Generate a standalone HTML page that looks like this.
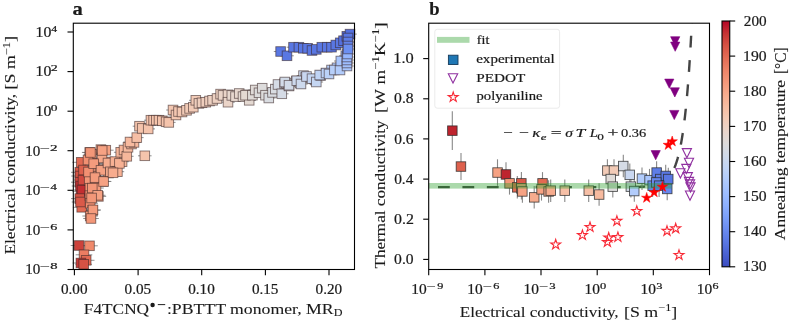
<!DOCTYPE html>
<html><head><meta charset="utf-8"><style>
html,body{margin:0;padding:0;background:#fff;width:792px;height:322px;overflow:hidden}
svg{display:block;font-family:"Liberation Serif", serif;will-change:transform}
text{fill:#1a1a1a;stroke:#1a1a1a;stroke-width:0.2px} text.lb{stroke-width:0.1px}
</style></head><body>
<svg width="792" height="322" viewBox="0 0 792 322">
<rect width="792" height="322" fill="#fff"/>
<line x1="70.7" y1="245.5" x2="87.3" y2="245.5" stroke="#777" stroke-width="0.8"/>
<line x1="81.2" y1="245.8" x2="97.8" y2="245.8" stroke="#777" stroke-width="0.8"/>
<line x1="75.7" y1="254.8" x2="92.3" y2="254.8" stroke="#777" stroke-width="0.8"/>
<line x1="77.9" y1="260.3" x2="94.5" y2="260.3" stroke="#777" stroke-width="0.8"/>
<line x1="72.6" y1="263.0" x2="89.2" y2="263.0" stroke="#777" stroke-width="0.8"/>
<line x1="75.4" y1="264.3" x2="92.0" y2="264.3" stroke="#777" stroke-width="0.8"/>
<line x1="72.4" y1="162.3" x2="90.0" y2="162.3" stroke="#777" stroke-width="0.8"/>
<line x1="71.0" y1="172.3" x2="88.6" y2="172.3" stroke="#777" stroke-width="0.8"/>
<line x1="71.2" y1="176.0" x2="88.8" y2="176.0" stroke="#777" stroke-width="0.8"/>
<line x1="71.0" y1="182.2" x2="88.6" y2="182.2" stroke="#777" stroke-width="0.8"/>
<line x1="72.2" y1="191.3" x2="89.8" y2="191.3" stroke="#777" stroke-width="0.8"/>
<line x1="71.7" y1="186.0" x2="89.3" y2="186.0" stroke="#777" stroke-width="0.8"/>
<line x1="73.2" y1="190.0" x2="90.8" y2="190.0" stroke="#777" stroke-width="0.8"/>
<line x1="71.0" y1="198.6" x2="88.6" y2="198.6" stroke="#777" stroke-width="0.8"/>
<line x1="72.9" y1="207.3" x2="90.5" y2="207.3" stroke="#777" stroke-width="0.8"/>
<line x1="71.7" y1="202.0" x2="89.3" y2="202.0" stroke="#777" stroke-width="0.8"/>
<line x1="74.2" y1="180.0" x2="91.8" y2="180.0" stroke="#777" stroke-width="0.8"/>
<line x1="74.7" y1="170.0" x2="92.3" y2="170.0" stroke="#777" stroke-width="0.8"/>
<line x1="93.1" y1="149.6" x2="108.7" y2="149.6" stroke="#777" stroke-width="0.8"/>
<line x1="98.0" y1="150.2" x2="113.6" y2="150.2" stroke="#777" stroke-width="0.8"/>
<line x1="81.9" y1="152.4" x2="97.5" y2="152.4" stroke="#777" stroke-width="0.8"/>
<line x1="83.7" y1="154.3" x2="99.3" y2="154.3" stroke="#777" stroke-width="0.8"/>
<line x1="86.6" y1="163.3" x2="102.2" y2="163.3" stroke="#777" stroke-width="0.8"/>
<line x1="99.9" y1="162.0" x2="115.5" y2="162.0" stroke="#777" stroke-width="0.8"/>
<line x1="85.2" y1="170.4" x2="100.8" y2="170.4" stroke="#777" stroke-width="0.8"/>
<line x1="92.2" y1="169.5" x2="107.8" y2="169.5" stroke="#777" stroke-width="0.8"/>
<line x1="100.7" y1="173.0" x2="116.3" y2="173.0" stroke="#777" stroke-width="0.8"/>
<line x1="87.8" y1="176.2" x2="103.4" y2="176.2" stroke="#777" stroke-width="0.8"/>
<line x1="81.4" y1="180.3" x2="97.0" y2="180.3" stroke="#777" stroke-width="0.8"/>
<line x1="87.4" y1="179.2" x2="103.0" y2="179.2" stroke="#777" stroke-width="0.8"/>
<line x1="95.2" y1="181.4" x2="110.8" y2="181.4" stroke="#777" stroke-width="0.8"/>
<line x1="82.1" y1="188.2" x2="97.7" y2="188.2" stroke="#777" stroke-width="0.8"/>
<line x1="88.2" y1="188.0" x2="103.8" y2="188.0" stroke="#777" stroke-width="0.8"/>
<line x1="82.1" y1="195.6" x2="97.7" y2="195.6" stroke="#777" stroke-width="0.8"/>
<line x1="90.6" y1="196.4" x2="106.2" y2="196.4" stroke="#777" stroke-width="0.8"/>
<line x1="82.4" y1="203.2" x2="98.0" y2="203.2" stroke="#777" stroke-width="0.8"/>
<line x1="84.9" y1="210.3" x2="100.5" y2="210.3" stroke="#777" stroke-width="0.8"/>
<line x1="82.4" y1="216.0" x2="98.0" y2="216.0" stroke="#777" stroke-width="0.8"/>
<line x1="80.2" y1="160.0" x2="95.8" y2="160.0" stroke="#777" stroke-width="0.8"/>
<line x1="80.7" y1="172.0" x2="96.3" y2="172.0" stroke="#777" stroke-width="0.8"/>
<line x1="94.2" y1="158.0" x2="109.8" y2="158.0" stroke="#777" stroke-width="0.8"/>
<line x1="82.6" y1="152.5" x2="98.2" y2="152.5" stroke="#777" stroke-width="0.8"/>
<line x1="94.4" y1="150.5" x2="110.0" y2="150.5" stroke="#777" stroke-width="0.8"/>
<line x1="85.9" y1="163.7" x2="101.5" y2="163.7" stroke="#777" stroke-width="0.8"/>
<line x1="93.2" y1="170.3" x2="108.8" y2="170.3" stroke="#777" stroke-width="0.8"/>
<line x1="87.2" y1="177.6" x2="102.8" y2="177.6" stroke="#777" stroke-width="0.8"/>
<line x1="95.8" y1="181.5" x2="111.4" y2="181.5" stroke="#777" stroke-width="0.8"/>
<line x1="84.5" y1="188.1" x2="100.1" y2="188.1" stroke="#777" stroke-width="0.8"/>
<line x1="89.9" y1="195.3" x2="105.5" y2="195.3" stroke="#777" stroke-width="0.8"/>
<line x1="83.8" y1="198.0" x2="99.4" y2="198.0" stroke="#777" stroke-width="0.8"/>
<line x1="85.2" y1="209.9" x2="100.8" y2="209.9" stroke="#777" stroke-width="0.8"/>
<line x1="83.2" y1="218.5" x2="98.8" y2="218.5" stroke="#777" stroke-width="0.8"/>
<line x1="105.4" y1="164.5" x2="119.0" y2="164.5" stroke="#777" stroke-width="0.8"/>
<line x1="110.6" y1="171.7" x2="124.2" y2="171.7" stroke="#777" stroke-width="0.8"/>
<line x1="115.3" y1="161.7" x2="128.9" y2="161.7" stroke="#777" stroke-width="0.8"/>
<line x1="101.2" y1="163.0" x2="114.8" y2="163.0" stroke="#777" stroke-width="0.8"/>
<line x1="108.2" y1="161.6" x2="121.8" y2="161.6" stroke="#777" stroke-width="0.8"/>
<line x1="112.6" y1="163.4" x2="126.2" y2="163.4" stroke="#777" stroke-width="0.8"/>
<line x1="103.6" y1="171.8" x2="117.2" y2="171.8" stroke="#777" stroke-width="0.8"/>
<line x1="106.2" y1="172.8" x2="119.8" y2="172.8" stroke="#777" stroke-width="0.8"/>
<line x1="113.9" y1="152.3" x2="127.5" y2="152.3" stroke="#777" stroke-width="0.8"/>
<line x1="117.2" y1="150.0" x2="130.8" y2="150.0" stroke="#777" stroke-width="0.8"/>
<line x1="120.0" y1="156.3" x2="133.6" y2="156.3" stroke="#777" stroke-width="0.8"/>
<line x1="121.2" y1="147.3" x2="134.8" y2="147.3" stroke="#777" stroke-width="0.8"/>
<line x1="124.7" y1="144.0" x2="138.3" y2="144.0" stroke="#777" stroke-width="0.8"/>
<line x1="127.2" y1="142.4" x2="140.8" y2="142.4" stroke="#777" stroke-width="0.8"/>
<line x1="123.2" y1="142.0" x2="136.8" y2="142.0" stroke="#777" stroke-width="0.8"/>
<line x1="130.0" y1="137.6" x2="143.6" y2="137.6" stroke="#777" stroke-width="0.8"/>
<line x1="132.7" y1="126.2" x2="146.3" y2="126.2" stroke="#777" stroke-width="0.8"/>
<line x1="135.4" y1="128.4" x2="149.0" y2="128.4" stroke="#777" stroke-width="0.8"/>
<line x1="141.4" y1="128.9" x2="155.0" y2="128.9" stroke="#777" stroke-width="0.8"/>
<line x1="138.0" y1="155.8" x2="151.6" y2="155.8" stroke="#777" stroke-width="0.8"/>
<line x1="144.1" y1="120.2" x2="157.7" y2="120.2" stroke="#777" stroke-width="0.8"/>
<line x1="146.8" y1="120.2" x2="160.4" y2="120.2" stroke="#777" stroke-width="0.8"/>
<line x1="149.5" y1="120.2" x2="163.1" y2="120.2" stroke="#777" stroke-width="0.8"/>
<line x1="152.2" y1="120.2" x2="165.8" y2="120.2" stroke="#777" stroke-width="0.8"/>
<line x1="155.5" y1="120.8" x2="169.1" y2="120.8" stroke="#777" stroke-width="0.8"/>
<line x1="159.3" y1="121.8" x2="172.9" y2="121.8" stroke="#777" stroke-width="0.8"/>
<line x1="162.0" y1="122.4" x2="175.6" y2="122.4" stroke="#777" stroke-width="0.8"/>
<line x1="166.2" y1="110.0" x2="179.8" y2="110.0" stroke="#777" stroke-width="0.8"/>
<line x1="169.2" y1="115.0" x2="182.8" y2="115.0" stroke="#777" stroke-width="0.8"/>
<line x1="171.7" y1="111.5" x2="185.3" y2="111.5" stroke="#777" stroke-width="0.8"/>
<line x1="175.2" y1="112.0" x2="188.8" y2="112.0" stroke="#777" stroke-width="0.8"/>
<line x1="179.7" y1="110.3" x2="193.3" y2="110.3" stroke="#777" stroke-width="0.8"/>
<line x1="182.8" y1="108.4" x2="196.4" y2="108.4" stroke="#777" stroke-width="0.8"/>
<line x1="186.5" y1="107.2" x2="200.1" y2="107.2" stroke="#777" stroke-width="0.8"/>
<line x1="189.0" y1="100.3" x2="202.6" y2="100.3" stroke="#777" stroke-width="0.8"/>
<line x1="192.1" y1="103.4" x2="205.7" y2="103.4" stroke="#777" stroke-width="0.8"/>
<line x1="195.2" y1="102.8" x2="208.8" y2="102.8" stroke="#777" stroke-width="0.8"/>
<line x1="199.0" y1="102.2" x2="212.6" y2="102.2" stroke="#777" stroke-width="0.8"/>
<line x1="202.7" y1="101.0" x2="216.3" y2="101.0" stroke="#777" stroke-width="0.8"/>
<line x1="205.8" y1="100.3" x2="219.4" y2="100.3" stroke="#777" stroke-width="0.8"/>
<line x1="210.2" y1="98.5" x2="223.8" y2="98.5" stroke="#777" stroke-width="0.8"/>
<line x1="213.8" y1="94.1" x2="227.4" y2="94.1" stroke="#777" stroke-width="0.8"/>
<line x1="216.2" y1="95.4" x2="229.8" y2="95.4" stroke="#777" stroke-width="0.8"/>
<line x1="221.2" y1="94.8" x2="234.8" y2="94.8" stroke="#777" stroke-width="0.8"/>
<line x1="221.2" y1="102.2" x2="234.8" y2="102.2" stroke="#777" stroke-width="0.8"/>
<line x1="225.0" y1="95.4" x2="238.6" y2="95.4" stroke="#777" stroke-width="0.8"/>
<line x1="228.7" y1="96.6" x2="242.3" y2="96.6" stroke="#777" stroke-width="0.8"/>
<line x1="232.4" y1="93.5" x2="246.0" y2="93.5" stroke="#777" stroke-width="0.8"/>
<line x1="236.2" y1="96.6" x2="249.8" y2="96.6" stroke="#777" stroke-width="0.8"/>
<line x1="239.9" y1="94.8" x2="253.5" y2="94.8" stroke="#777" stroke-width="0.8"/>
<line x1="242.4" y1="100.3" x2="256.0" y2="100.3" stroke="#777" stroke-width="0.8"/>
<line x1="238.7" y1="95.2" x2="252.3" y2="95.2" stroke="#777" stroke-width="0.8"/>
<line x1="245.6" y1="95.2" x2="259.2" y2="95.2" stroke="#777" stroke-width="0.8"/>
<line x1="248.4" y1="90.0" x2="262.0" y2="90.0" stroke="#777" stroke-width="0.8"/>
<line x1="252.2" y1="92.8" x2="265.8" y2="92.8" stroke="#777" stroke-width="0.8"/>
<line x1="255.4" y1="88.2" x2="269.0" y2="88.2" stroke="#777" stroke-width="0.8"/>
<line x1="258.7" y1="95.2" x2="272.3" y2="95.2" stroke="#777" stroke-width="0.8"/>
<line x1="262.0" y1="98.0" x2="275.6" y2="98.0" stroke="#777" stroke-width="0.8"/>
<line x1="265.7" y1="92.4" x2="279.3" y2="92.4" stroke="#777" stroke-width="0.8"/>
<line x1="268.5" y1="89.1" x2="282.1" y2="89.1" stroke="#777" stroke-width="0.8"/>
<line x1="271.2" y1="84.5" x2="284.8" y2="84.5" stroke="#777" stroke-width="0.8"/>
<line x1="275.0" y1="93.8" x2="288.6" y2="93.8" stroke="#777" stroke-width="0.8"/>
<line x1="277.8" y1="83.5" x2="291.4" y2="83.5" stroke="#777" stroke-width="0.8"/>
<line x1="279.2" y1="83.0" x2="292.8" y2="83.0" stroke="#777" stroke-width="0.8"/>
<line x1="282.2" y1="86.0" x2="295.8" y2="86.0" stroke="#777" stroke-width="0.8"/>
<line x1="289.6" y1="81.0" x2="303.2" y2="81.0" stroke="#777" stroke-width="0.8"/>
<line x1="293.2" y1="83.0" x2="306.8" y2="83.0" stroke="#777" stroke-width="0.8"/>
<line x1="296.7" y1="75.6" x2="310.3" y2="75.6" stroke="#777" stroke-width="0.8"/>
<line x1="298.9" y1="77.4" x2="312.5" y2="77.4" stroke="#777" stroke-width="0.8"/>
<line x1="307.2" y1="79.0" x2="320.8" y2="79.0" stroke="#777" stroke-width="0.8"/>
<line x1="308.6" y1="80.0" x2="322.2" y2="80.0" stroke="#777" stroke-width="0.8"/>
<line x1="278.0" y1="82.0" x2="291.6" y2="82.0" stroke="#777" stroke-width="0.8"/>
<line x1="282.2" y1="85.2" x2="295.8" y2="85.2" stroke="#777" stroke-width="0.8"/>
<line x1="290.0" y1="80.8" x2="303.6" y2="80.8" stroke="#777" stroke-width="0.8"/>
<line x1="294.2" y1="84.0" x2="307.8" y2="84.0" stroke="#777" stroke-width="0.8"/>
<line x1="299.7" y1="76.5" x2="313.3" y2="76.5" stroke="#777" stroke-width="0.8"/>
<line x1="305.2" y1="78.7" x2="318.8" y2="78.7" stroke="#777" stroke-width="0.8"/>
<line x1="309.5" y1="82.0" x2="323.1" y2="82.0" stroke="#777" stroke-width="0.8"/>
<line x1="313.9" y1="75.5" x2="327.5" y2="75.5" stroke="#777" stroke-width="0.8"/>
<line x1="319.3" y1="73.3" x2="332.9" y2="73.3" stroke="#777" stroke-width="0.8"/>
<line x1="324.7" y1="70.0" x2="338.3" y2="70.0" stroke="#777" stroke-width="0.8"/>
<line x1="330.2" y1="67.8" x2="343.8" y2="67.8" stroke="#777" stroke-width="0.8"/>
<line x1="335.6" y1="62.4" x2="349.2" y2="62.4" stroke="#777" stroke-width="0.8"/>
<line x1="339.0" y1="55.8" x2="352.6" y2="55.8" stroke="#777" stroke-width="0.8"/>
<line x1="312.9" y1="75.0" x2="326.5" y2="75.0" stroke="#777" stroke-width="0.8"/>
<line x1="319.2" y1="73.0" x2="332.8" y2="73.0" stroke="#777" stroke-width="0.8"/>
<line x1="322.2" y1="74.0" x2="335.8" y2="74.0" stroke="#777" stroke-width="0.8"/>
<line x1="327.6" y1="70.0" x2="341.2" y2="70.0" stroke="#777" stroke-width="0.8"/>
<line x1="333.2" y1="70.0" x2="346.8" y2="70.0" stroke="#777" stroke-width="0.8"/>
<line x1="334.0" y1="61.0" x2="347.6" y2="61.0" stroke="#777" stroke-width="0.8"/>
<line x1="340.2" y1="66.0" x2="353.8" y2="66.0" stroke="#777" stroke-width="0.8"/>
<line x1="340.2" y1="63.0" x2="353.8" y2="63.0" stroke="#777" stroke-width="0.8"/>
<line x1="340.2" y1="60.0" x2="353.8" y2="60.0" stroke="#777" stroke-width="0.8"/>
<line x1="340.2" y1="57.0" x2="353.8" y2="57.0" stroke="#777" stroke-width="0.8"/>
<line x1="340.7" y1="54.0" x2="354.3" y2="54.0" stroke="#777" stroke-width="0.8"/>
<line x1="273.8" y1="51.5" x2="287.4" y2="51.5" stroke="#777" stroke-width="0.8"/>
<line x1="280.2" y1="55.8" x2="293.8" y2="55.8" stroke="#777" stroke-width="0.8"/>
<line x1="286.7" y1="47.2" x2="300.3" y2="47.2" stroke="#777" stroke-width="0.8"/>
<line x1="292.1" y1="47.2" x2="305.7" y2="47.2" stroke="#777" stroke-width="0.8"/>
<line x1="296.5" y1="48.3" x2="310.1" y2="48.3" stroke="#777" stroke-width="0.8"/>
<line x1="300.8" y1="48.3" x2="314.4" y2="48.3" stroke="#777" stroke-width="0.8"/>
<line x1="305.2" y1="50.5" x2="318.8" y2="50.5" stroke="#777" stroke-width="0.8"/>
<line x1="309.5" y1="49.4" x2="323.1" y2="49.4" stroke="#777" stroke-width="0.8"/>
<line x1="315.0" y1="47.2" x2="328.6" y2="47.2" stroke="#777" stroke-width="0.8"/>
<line x1="320.4" y1="47.2" x2="334.0" y2="47.2" stroke="#777" stroke-width="0.8"/>
<line x1="324.7" y1="47.2" x2="338.3" y2="47.2" stroke="#777" stroke-width="0.8"/>
<line x1="329.0" y1="45.0" x2="342.6" y2="45.0" stroke="#777" stroke-width="0.8"/>
<line x1="333.4" y1="42.8" x2="347.0" y2="42.8" stroke="#777" stroke-width="0.8"/>
<line x1="336.7" y1="40.7" x2="350.3" y2="40.7" stroke="#777" stroke-width="0.8"/>
<line x1="340.0" y1="36.3" x2="353.6" y2="36.3" stroke="#777" stroke-width="0.8"/>
<line x1="343.2" y1="34.1" x2="356.8" y2="34.1" stroke="#777" stroke-width="0.8"/>
<line x1="341.2" y1="38.0" x2="354.8" y2="38.0" stroke="#777" stroke-width="0.8"/>
<line x1="341.2" y1="42.0" x2="354.8" y2="42.0" stroke="#777" stroke-width="0.8"/>
<line x1="341.2" y1="46.0" x2="354.8" y2="46.0" stroke="#777" stroke-width="0.8"/>
<line x1="341.2" y1="49.0" x2="354.8" y2="49.0" stroke="#777" stroke-width="0.8"/>
<rect x="74.2" y="240.7" width="9.6" height="9.6" fill="#cd423b" stroke="#3a2626" stroke-opacity="0.62" stroke-width="0.9"/>
<rect x="84.7" y="241.0" width="9.6" height="9.6" fill="#f08a6c" stroke="#3a2626" stroke-opacity="0.62" stroke-width="0.9"/>
<rect x="79.2" y="250.0" width="9.6" height="9.6" fill="#eb7d62" stroke="#3a2626" stroke-opacity="0.62" stroke-width="0.9"/>
<rect x="81.4" y="255.5" width="9.6" height="9.6" fill="#e26952" stroke="#3a2626" stroke-opacity="0.62" stroke-width="0.9"/>
<rect x="76.1" y="258.2" width="9.6" height="9.6" fill="#c83836" stroke="#3a2626" stroke-opacity="0.62" stroke-width="0.9"/>
<rect x="78.9" y="259.5" width="9.6" height="9.6" fill="#d65244" stroke="#3a2626" stroke-opacity="0.62" stroke-width="0.9"/>
<rect x="76.4" y="157.5" width="9.6" height="9.6" fill="#e26952" stroke="#3a2626" stroke-opacity="0.62" stroke-width="0.9"/>
<rect x="75.0" y="167.5" width="9.6" height="9.6" fill="#da5a49" stroke="#3a2626" stroke-opacity="0.62" stroke-width="0.9"/>
<rect x="75.2" y="171.2" width="9.6" height="9.6" fill="#d65244" stroke="#3a2626" stroke-opacity="0.62" stroke-width="0.9"/>
<rect x="75.0" y="177.4" width="9.6" height="9.6" fill="#d1493f" stroke="#3a2626" stroke-opacity="0.62" stroke-width="0.9"/>
<rect x="76.2" y="186.5" width="9.6" height="9.6" fill="#c83836" stroke="#3a2626" stroke-opacity="0.62" stroke-width="0.9"/>
<rect x="75.7" y="181.2" width="9.6" height="9.6" fill="#c32e31" stroke="#3a2626" stroke-opacity="0.62" stroke-width="0.9"/>
<rect x="77.2" y="185.2" width="9.6" height="9.6" fill="#c32e31" stroke="#3a2626" stroke-opacity="0.62" stroke-width="0.9"/>
<rect x="75.0" y="193.8" width="9.6" height="9.6" fill="#d65244" stroke="#3a2626" stroke-opacity="0.62" stroke-width="0.9"/>
<rect x="76.9" y="202.5" width="9.6" height="9.6" fill="#e26952" stroke="#3a2626" stroke-opacity="0.62" stroke-width="0.9"/>
<rect x="75.7" y="197.2" width="9.6" height="9.6" fill="#da5a49" stroke="#3a2626" stroke-opacity="0.62" stroke-width="0.9"/>
<rect x="78.2" y="175.2" width="9.6" height="9.6" fill="#d1493f" stroke="#3a2626" stroke-opacity="0.62" stroke-width="0.9"/>
<rect x="78.7" y="165.2" width="9.6" height="9.6" fill="#de614d" stroke="#3a2626" stroke-opacity="0.62" stroke-width="0.9"/>
<rect x="96.1" y="144.8" width="9.6" height="9.6" fill="#f6a283" stroke="#3a2626" stroke-opacity="0.62" stroke-width="0.9"/>
<rect x="101.0" y="145.4" width="9.6" height="9.6" fill="#f6a283" stroke="#3a2626" stroke-opacity="0.62" stroke-width="0.9"/>
<rect x="84.9" y="147.6" width="9.6" height="9.6" fill="#f39778" stroke="#3a2626" stroke-opacity="0.62" stroke-width="0.9"/>
<rect x="86.7" y="149.5" width="9.6" height="9.6" fill="#f59c7d" stroke="#3a2626" stroke-opacity="0.62" stroke-width="0.9"/>
<rect x="89.6" y="158.5" width="9.6" height="9.6" fill="#f59c7d" stroke="#3a2626" stroke-opacity="0.62" stroke-width="0.9"/>
<rect x="102.9" y="157.2" width="9.6" height="9.6" fill="#f7a889" stroke="#3a2626" stroke-opacity="0.62" stroke-width="0.9"/>
<rect x="88.2" y="165.6" width="9.6" height="9.6" fill="#f59c7d" stroke="#3a2626" stroke-opacity="0.62" stroke-width="0.9"/>
<rect x="95.2" y="164.7" width="9.6" height="9.6" fill="#f6a283" stroke="#3a2626" stroke-opacity="0.62" stroke-width="0.9"/>
<rect x="103.7" y="168.2" width="9.6" height="9.6" fill="#f7a889" stroke="#3a2626" stroke-opacity="0.62" stroke-width="0.9"/>
<rect x="90.8" y="171.4" width="9.6" height="9.6" fill="#f59c7d" stroke="#3a2626" stroke-opacity="0.62" stroke-width="0.9"/>
<rect x="84.4" y="175.5" width="9.6" height="9.6" fill="#f39778" stroke="#3a2626" stroke-opacity="0.62" stroke-width="0.9"/>
<rect x="90.4" y="174.4" width="9.6" height="9.6" fill="#f59c7d" stroke="#3a2626" stroke-opacity="0.62" stroke-width="0.9"/>
<rect x="98.2" y="176.6" width="9.6" height="9.6" fill="#f6a283" stroke="#3a2626" stroke-opacity="0.62" stroke-width="0.9"/>
<rect x="85.1" y="183.4" width="9.6" height="9.6" fill="#f29072" stroke="#3a2626" stroke-opacity="0.62" stroke-width="0.9"/>
<rect x="91.2" y="183.2" width="9.6" height="9.6" fill="#f59c7d" stroke="#3a2626" stroke-opacity="0.62" stroke-width="0.9"/>
<rect x="85.1" y="190.8" width="9.6" height="9.6" fill="#f29072" stroke="#3a2626" stroke-opacity="0.62" stroke-width="0.9"/>
<rect x="93.6" y="191.6" width="9.6" height="9.6" fill="#f6a283" stroke="#3a2626" stroke-opacity="0.62" stroke-width="0.9"/>
<rect x="85.4" y="198.4" width="9.6" height="9.6" fill="#f29072" stroke="#3a2626" stroke-opacity="0.62" stroke-width="0.9"/>
<rect x="87.9" y="205.5" width="9.6" height="9.6" fill="#f59c7d" stroke="#3a2626" stroke-opacity="0.62" stroke-width="0.9"/>
<rect x="85.4" y="211.2" width="9.6" height="9.6" fill="#f39778" stroke="#3a2626" stroke-opacity="0.62" stroke-width="0.9"/>
<rect x="83.2" y="155.2" width="9.6" height="9.6" fill="#f29072" stroke="#3a2626" stroke-opacity="0.62" stroke-width="0.9"/>
<rect x="83.7" y="167.2" width="9.6" height="9.6" fill="#f29072" stroke="#3a2626" stroke-opacity="0.62" stroke-width="0.9"/>
<rect x="97.2" y="153.2" width="9.6" height="9.6" fill="#f7a889" stroke="#3a2626" stroke-opacity="0.62" stroke-width="0.9"/>
<rect x="85.6" y="147.7" width="9.6" height="9.6" fill="#f39778" stroke="#3a2626" stroke-opacity="0.62" stroke-width="0.9"/>
<rect x="97.4" y="145.7" width="9.6" height="9.6" fill="#f6a283" stroke="#3a2626" stroke-opacity="0.62" stroke-width="0.9"/>
<rect x="88.9" y="158.9" width="9.6" height="9.6" fill="#f59c7d" stroke="#3a2626" stroke-opacity="0.62" stroke-width="0.9"/>
<rect x="96.2" y="165.5" width="9.6" height="9.6" fill="#f6a283" stroke="#3a2626" stroke-opacity="0.62" stroke-width="0.9"/>
<rect x="90.2" y="172.8" width="9.6" height="9.6" fill="#f59c7d" stroke="#3a2626" stroke-opacity="0.62" stroke-width="0.9"/>
<rect x="98.8" y="176.7" width="9.6" height="9.6" fill="#f6a283" stroke="#3a2626" stroke-opacity="0.62" stroke-width="0.9"/>
<rect x="87.5" y="183.3" width="9.6" height="9.6" fill="#f39778" stroke="#3a2626" stroke-opacity="0.62" stroke-width="0.9"/>
<rect x="92.9" y="190.5" width="9.6" height="9.6" fill="#f6a283" stroke="#3a2626" stroke-opacity="0.62" stroke-width="0.9"/>
<rect x="86.8" y="193.2" width="9.6" height="9.6" fill="#f39778" stroke="#3a2626" stroke-opacity="0.62" stroke-width="0.9"/>
<rect x="88.2" y="205.1" width="9.6" height="9.6" fill="#f59c7d" stroke="#3a2626" stroke-opacity="0.62" stroke-width="0.9"/>
<rect x="86.2" y="213.7" width="9.6" height="9.6" fill="#f39778" stroke="#3a2626" stroke-opacity="0.62" stroke-width="0.9"/>
<rect x="107.4" y="159.7" width="9.6" height="9.6" fill="#f7b194" stroke="#3a2626" stroke-opacity="0.62" stroke-width="0.9"/>
<rect x="112.6" y="166.9" width="9.6" height="9.6" fill="#f7b194" stroke="#3a2626" stroke-opacity="0.62" stroke-width="0.9"/>
<rect x="117.3" y="156.9" width="9.6" height="9.6" fill="#f7b79b" stroke="#3a2626" stroke-opacity="0.62" stroke-width="0.9"/>
<rect x="103.2" y="158.2" width="9.6" height="9.6" fill="#f7ac8e" stroke="#3a2626" stroke-opacity="0.62" stroke-width="0.9"/>
<rect x="110.2" y="156.8" width="9.6" height="9.6" fill="#f7b194" stroke="#3a2626" stroke-opacity="0.62" stroke-width="0.9"/>
<rect x="114.6" y="158.6" width="9.6" height="9.6" fill="#f7b194" stroke="#3a2626" stroke-opacity="0.62" stroke-width="0.9"/>
<rect x="105.6" y="167.0" width="9.6" height="9.6" fill="#f7ac8e" stroke="#3a2626" stroke-opacity="0.62" stroke-width="0.9"/>
<rect x="108.2" y="168.0" width="9.6" height="9.6" fill="#f7ac8e" stroke="#3a2626" stroke-opacity="0.62" stroke-width="0.9"/>
<rect x="115.9" y="147.5" width="9.6" height="9.6" fill="#f7b79b" stroke="#3a2626" stroke-opacity="0.62" stroke-width="0.9"/>
<rect x="119.2" y="145.2" width="9.6" height="9.6" fill="#f7b79b" stroke="#3a2626" stroke-opacity="0.62" stroke-width="0.9"/>
<rect x="122.0" y="151.5" width="9.6" height="9.6" fill="#f7b79b" stroke="#3a2626" stroke-opacity="0.62" stroke-width="0.9"/>
<rect x="123.2" y="142.5" width="9.6" height="9.6" fill="#f7ba9f" stroke="#3a2626" stroke-opacity="0.62" stroke-width="0.9"/>
<rect x="126.7" y="139.2" width="9.6" height="9.6" fill="#f7ba9f" stroke="#3a2626" stroke-opacity="0.62" stroke-width="0.9"/>
<rect x="129.2" y="137.6" width="9.6" height="9.6" fill="#f7ba9f" stroke="#3a2626" stroke-opacity="0.62" stroke-width="0.9"/>
<rect x="125.2" y="137.2" width="9.6" height="9.6" fill="#f7ba9f" stroke="#3a2626" stroke-opacity="0.62" stroke-width="0.9"/>
<rect x="132.0" y="132.8" width="9.6" height="9.6" fill="#f6bfa6" stroke="#3a2626" stroke-opacity="0.62" stroke-width="0.9"/>
<rect x="134.7" y="121.4" width="9.6" height="9.6" fill="#f5c4ac" stroke="#3a2626" stroke-opacity="0.62" stroke-width="0.9"/>
<rect x="137.4" y="123.6" width="9.6" height="9.6" fill="#f5c4ac" stroke="#3a2626" stroke-opacity="0.62" stroke-width="0.9"/>
<rect x="143.4" y="124.1" width="9.6" height="9.6" fill="#f5c4ac" stroke="#3a2626" stroke-opacity="0.62" stroke-width="0.9"/>
<rect x="140.0" y="151.0" width="9.6" height="9.6" fill="#f5c4ac" stroke="#3a2626" stroke-opacity="0.62" stroke-width="0.9"/>
<rect x="146.1" y="115.4" width="9.6" height="9.6" fill="#f5c4ac" stroke="#3a2626" stroke-opacity="0.62" stroke-width="0.9"/>
<rect x="148.8" y="115.4" width="9.6" height="9.6" fill="#f5c4ac" stroke="#3a2626" stroke-opacity="0.62" stroke-width="0.9"/>
<rect x="151.5" y="115.4" width="9.6" height="9.6" fill="#f5c4ac" stroke="#3a2626" stroke-opacity="0.62" stroke-width="0.9"/>
<rect x="154.2" y="115.4" width="9.6" height="9.6" fill="#f5c4ac" stroke="#3a2626" stroke-opacity="0.62" stroke-width="0.9"/>
<rect x="157.5" y="116.0" width="9.6" height="9.6" fill="#f5c4ac" stroke="#3a2626" stroke-opacity="0.62" stroke-width="0.9"/>
<rect x="161.3" y="117.0" width="9.6" height="9.6" fill="#f5c4ac" stroke="#3a2626" stroke-opacity="0.62" stroke-width="0.9"/>
<rect x="164.0" y="117.6" width="9.6" height="9.6" fill="#f5c4ac" stroke="#3a2626" stroke-opacity="0.62" stroke-width="0.9"/>
<rect x="168.2" y="105.2" width="9.6" height="9.6" fill="#f3c7b1" stroke="#3a2626" stroke-opacity="0.62" stroke-width="0.9"/>
<rect x="171.2" y="110.2" width="9.6" height="9.6" fill="#f3c7b1" stroke="#3a2626" stroke-opacity="0.62" stroke-width="0.9"/>
<rect x="173.7" y="106.7" width="9.6" height="9.6" fill="#f3c7b1" stroke="#3a2626" stroke-opacity="0.62" stroke-width="0.9"/>
<rect x="177.2" y="107.2" width="9.6" height="9.6" fill="#f3c7b1" stroke="#3a2626" stroke-opacity="0.62" stroke-width="0.9"/>
<rect x="181.7" y="105.5" width="9.6" height="9.6" fill="#f2cbb7" stroke="#3a2626" stroke-opacity="0.62" stroke-width="0.9"/>
<rect x="184.8" y="103.6" width="9.6" height="9.6" fill="#f2cbb7" stroke="#3a2626" stroke-opacity="0.62" stroke-width="0.9"/>
<rect x="188.5" y="102.4" width="9.6" height="9.6" fill="#f2cbb7" stroke="#3a2626" stroke-opacity="0.62" stroke-width="0.9"/>
<rect x="191.0" y="95.5" width="9.6" height="9.6" fill="#f2cbb7" stroke="#3a2626" stroke-opacity="0.62" stroke-width="0.9"/>
<rect x="194.1" y="98.6" width="9.6" height="9.6" fill="#efcebd" stroke="#3a2626" stroke-opacity="0.62" stroke-width="0.9"/>
<rect x="197.2" y="98.0" width="9.6" height="9.6" fill="#efcebd" stroke="#3a2626" stroke-opacity="0.62" stroke-width="0.9"/>
<rect x="201.0" y="97.4" width="9.6" height="9.6" fill="#efcebd" stroke="#3a2626" stroke-opacity="0.62" stroke-width="0.9"/>
<rect x="204.7" y="96.2" width="9.6" height="9.6" fill="#efcebd" stroke="#3a2626" stroke-opacity="0.62" stroke-width="0.9"/>
<rect x="207.8" y="95.5" width="9.6" height="9.6" fill="#edd1c2" stroke="#3a2626" stroke-opacity="0.62" stroke-width="0.9"/>
<rect x="212.2" y="93.7" width="9.6" height="9.6" fill="#edd1c2" stroke="#3a2626" stroke-opacity="0.62" stroke-width="0.9"/>
<rect x="215.8" y="89.3" width="9.6" height="9.6" fill="#edd1c2" stroke="#3a2626" stroke-opacity="0.62" stroke-width="0.9"/>
<rect x="218.2" y="90.6" width="9.6" height="9.6" fill="#ead4c8" stroke="#3a2626" stroke-opacity="0.62" stroke-width="0.9"/>
<rect x="223.2" y="90.0" width="9.6" height="9.6" fill="#ead4c8" stroke="#3a2626" stroke-opacity="0.62" stroke-width="0.9"/>
<rect x="223.2" y="97.4" width="9.6" height="9.6" fill="#ead4c8" stroke="#3a2626" stroke-opacity="0.62" stroke-width="0.9"/>
<rect x="227.0" y="90.6" width="9.6" height="9.6" fill="#e7d7ce" stroke="#3a2626" stroke-opacity="0.62" stroke-width="0.9"/>
<rect x="230.7" y="91.8" width="9.6" height="9.6" fill="#e7d7ce" stroke="#3a2626" stroke-opacity="0.62" stroke-width="0.9"/>
<rect x="234.4" y="88.7" width="9.6" height="9.6" fill="#e7d7ce" stroke="#3a2626" stroke-opacity="0.62" stroke-width="0.9"/>
<rect x="238.2" y="91.8" width="9.6" height="9.6" fill="#e4d9d2" stroke="#3a2626" stroke-opacity="0.62" stroke-width="0.9"/>
<rect x="241.9" y="90.0" width="9.6" height="9.6" fill="#e4d9d2" stroke="#3a2626" stroke-opacity="0.62" stroke-width="0.9"/>
<rect x="244.4" y="95.5" width="9.6" height="9.6" fill="#e4d9d2" stroke="#3a2626" stroke-opacity="0.62" stroke-width="0.9"/>
<rect x="240.7" y="90.4" width="9.6" height="9.6" fill="#e4d9d2" stroke="#3a2626" stroke-opacity="0.62" stroke-width="0.9"/>
<rect x="247.6" y="90.4" width="9.6" height="9.6" fill="#e0dbd8" stroke="#3a2626" stroke-opacity="0.62" stroke-width="0.9"/>
<rect x="250.4" y="85.2" width="9.6" height="9.6" fill="#e0dbd8" stroke="#3a2626" stroke-opacity="0.62" stroke-width="0.9"/>
<rect x="254.2" y="88.0" width="9.6" height="9.6" fill="#dddcdc" stroke="#3a2626" stroke-opacity="0.62" stroke-width="0.9"/>
<rect x="257.4" y="83.4" width="9.6" height="9.6" fill="#dddcdc" stroke="#3a2626" stroke-opacity="0.62" stroke-width="0.9"/>
<rect x="260.7" y="90.4" width="9.6" height="9.6" fill="#dddcdc" stroke="#3a2626" stroke-opacity="0.62" stroke-width="0.9"/>
<rect x="264.0" y="93.2" width="9.6" height="9.6" fill="#d9dce1" stroke="#3a2626" stroke-opacity="0.62" stroke-width="0.9"/>
<rect x="267.7" y="87.6" width="9.6" height="9.6" fill="#d9dce1" stroke="#3a2626" stroke-opacity="0.62" stroke-width="0.9"/>
<rect x="270.5" y="84.3" width="9.6" height="9.6" fill="#d9dce1" stroke="#3a2626" stroke-opacity="0.62" stroke-width="0.9"/>
<rect x="273.2" y="79.7" width="9.6" height="9.6" fill="#d5dbe5" stroke="#3a2626" stroke-opacity="0.62" stroke-width="0.9"/>
<rect x="277.0" y="89.0" width="9.6" height="9.6" fill="#d5dbe5" stroke="#3a2626" stroke-opacity="0.62" stroke-width="0.9"/>
<rect x="279.8" y="78.7" width="9.6" height="9.6" fill="#d5dbe5" stroke="#3a2626" stroke-opacity="0.62" stroke-width="0.9"/>
<rect x="281.2" y="78.2" width="9.6" height="9.6" fill="#d5dbe5" stroke="#3a2626" stroke-opacity="0.62" stroke-width="0.9"/>
<rect x="284.2" y="81.2" width="9.6" height="9.6" fill="#d5dbe5" stroke="#3a2626" stroke-opacity="0.62" stroke-width="0.9"/>
<rect x="291.6" y="76.2" width="9.6" height="9.6" fill="#d2dbe8" stroke="#3a2626" stroke-opacity="0.62" stroke-width="0.9"/>
<rect x="295.2" y="78.2" width="9.6" height="9.6" fill="#d2dbe8" stroke="#3a2626" stroke-opacity="0.62" stroke-width="0.9"/>
<rect x="298.7" y="70.8" width="9.6" height="9.6" fill="#cdd9ec" stroke="#3a2626" stroke-opacity="0.62" stroke-width="0.9"/>
<rect x="300.9" y="72.6" width="9.6" height="9.6" fill="#cdd9ec" stroke="#3a2626" stroke-opacity="0.62" stroke-width="0.9"/>
<rect x="309.2" y="74.2" width="9.6" height="9.6" fill="#c5d6f2" stroke="#3a2626" stroke-opacity="0.62" stroke-width="0.9"/>
<rect x="310.6" y="75.2" width="9.6" height="9.6" fill="#c5d6f2" stroke="#3a2626" stroke-opacity="0.62" stroke-width="0.9"/>
<rect x="280.0" y="77.2" width="9.6" height="9.6" fill="#d2dbe8" stroke="#3a2626" stroke-opacity="0.62" stroke-width="0.9"/>
<rect x="284.2" y="80.4" width="9.6" height="9.6" fill="#d2dbe8" stroke="#3a2626" stroke-opacity="0.62" stroke-width="0.9"/>
<rect x="292.0" y="76.0" width="9.6" height="9.6" fill="#cdd9ec" stroke="#3a2626" stroke-opacity="0.62" stroke-width="0.9"/>
<rect x="296.2" y="79.2" width="9.6" height="9.6" fill="#cdd9ec" stroke="#3a2626" stroke-opacity="0.62" stroke-width="0.9"/>
<rect x="301.7" y="71.7" width="9.6" height="9.6" fill="#c9d7f0" stroke="#3a2626" stroke-opacity="0.62" stroke-width="0.9"/>
<rect x="307.2" y="73.9" width="9.6" height="9.6" fill="#c5d6f2" stroke="#3a2626" stroke-opacity="0.62" stroke-width="0.9"/>
<rect x="311.5" y="77.2" width="9.6" height="9.6" fill="#c5d6f2" stroke="#3a2626" stroke-opacity="0.62" stroke-width="0.9"/>
<rect x="315.9" y="70.7" width="9.6" height="9.6" fill="#c0d4f5" stroke="#3a2626" stroke-opacity="0.62" stroke-width="0.9"/>
<rect x="321.3" y="68.5" width="9.6" height="9.6" fill="#bbd1f8" stroke="#3a2626" stroke-opacity="0.62" stroke-width="0.9"/>
<rect x="326.7" y="65.2" width="9.6" height="9.6" fill="#b7cff9" stroke="#3a2626" stroke-opacity="0.62" stroke-width="0.9"/>
<rect x="332.2" y="63.0" width="9.6" height="9.6" fill="#b2ccfb" stroke="#3a2626" stroke-opacity="0.62" stroke-width="0.9"/>
<rect x="337.6" y="57.6" width="9.6" height="9.6" fill="#a9c6fd" stroke="#3a2626" stroke-opacity="0.62" stroke-width="0.9"/>
<rect x="341.0" y="51.0" width="9.6" height="9.6" fill="#9ebeff" stroke="#3a2626" stroke-opacity="0.62" stroke-width="0.9"/>
<rect x="314.9" y="70.2" width="9.6" height="9.6" fill="#c0d4f5" stroke="#3a2626" stroke-opacity="0.62" stroke-width="0.9"/>
<rect x="321.2" y="68.2" width="9.6" height="9.6" fill="#bbd1f8" stroke="#3a2626" stroke-opacity="0.62" stroke-width="0.9"/>
<rect x="324.2" y="69.2" width="9.6" height="9.6" fill="#bbd1f8" stroke="#3a2626" stroke-opacity="0.62" stroke-width="0.9"/>
<rect x="329.6" y="65.2" width="9.6" height="9.6" fill="#b7cff9" stroke="#3a2626" stroke-opacity="0.62" stroke-width="0.9"/>
<rect x="335.2" y="65.2" width="9.6" height="9.6" fill="#b2ccfb" stroke="#3a2626" stroke-opacity="0.62" stroke-width="0.9"/>
<rect x="336.0" y="56.2" width="9.6" height="9.6" fill="#a9c6fd" stroke="#3a2626" stroke-opacity="0.62" stroke-width="0.9"/>
<rect x="342.2" y="61.2" width="9.6" height="9.6" fill="#a9c6fd" stroke="#3a2626" stroke-opacity="0.62" stroke-width="0.9"/>
<rect x="342.2" y="58.2" width="9.6" height="9.6" fill="#a3c2fe" stroke="#3a2626" stroke-opacity="0.62" stroke-width="0.9"/>
<rect x="342.2" y="55.2" width="9.6" height="9.6" fill="#9ebeff" stroke="#3a2626" stroke-opacity="0.62" stroke-width="0.9"/>
<rect x="342.2" y="52.2" width="9.6" height="9.6" fill="#9abbff" stroke="#3a2626" stroke-opacity="0.62" stroke-width="0.9"/>
<rect x="342.7" y="49.2" width="9.6" height="9.6" fill="#94b6ff" stroke="#3a2626" stroke-opacity="0.62" stroke-width="0.9"/>
<rect x="275.8" y="46.7" width="9.6" height="9.6" fill="#5977e3" stroke="#3a2626" stroke-opacity="0.62" stroke-width="0.9"/>
<rect x="282.2" y="51.0" width="9.6" height="9.6" fill="#5977e3" stroke="#3a2626" stroke-opacity="0.62" stroke-width="0.9"/>
<rect x="288.7" y="42.4" width="9.6" height="9.6" fill="#5977e3" stroke="#3a2626" stroke-opacity="0.62" stroke-width="0.9"/>
<rect x="294.1" y="42.4" width="9.6" height="9.6" fill="#5977e3" stroke="#3a2626" stroke-opacity="0.62" stroke-width="0.9"/>
<rect x="298.5" y="43.5" width="9.6" height="9.6" fill="#5977e3" stroke="#3a2626" stroke-opacity="0.62" stroke-width="0.9"/>
<rect x="302.8" y="43.5" width="9.6" height="9.6" fill="#5977e3" stroke="#3a2626" stroke-opacity="0.62" stroke-width="0.9"/>
<rect x="307.2" y="45.7" width="9.6" height="9.6" fill="#5977e3" stroke="#3a2626" stroke-opacity="0.62" stroke-width="0.9"/>
<rect x="311.5" y="44.6" width="9.6" height="9.6" fill="#5977e3" stroke="#3a2626" stroke-opacity="0.62" stroke-width="0.9"/>
<rect x="317.0" y="42.4" width="9.6" height="9.6" fill="#5977e3" stroke="#3a2626" stroke-opacity="0.62" stroke-width="0.9"/>
<rect x="322.4" y="42.4" width="9.6" height="9.6" fill="#5977e3" stroke="#3a2626" stroke-opacity="0.62" stroke-width="0.9"/>
<rect x="326.7" y="42.4" width="9.6" height="9.6" fill="#5977e3" stroke="#3a2626" stroke-opacity="0.62" stroke-width="0.9"/>
<rect x="331.0" y="40.2" width="9.6" height="9.6" fill="#5977e3" stroke="#3a2626" stroke-opacity="0.62" stroke-width="0.9"/>
<rect x="335.4" y="38.0" width="9.6" height="9.6" fill="#5977e3" stroke="#3a2626" stroke-opacity="0.62" stroke-width="0.9"/>
<rect x="338.7" y="35.9" width="9.6" height="9.6" fill="#5470de" stroke="#3a2626" stroke-opacity="0.62" stroke-width="0.9"/>
<rect x="342.0" y="31.5" width="9.6" height="9.6" fill="#5470de" stroke="#3a2626" stroke-opacity="0.62" stroke-width="0.9"/>
<rect x="345.2" y="29.3" width="9.6" height="9.6" fill="#5470de" stroke="#3a2626" stroke-opacity="0.62" stroke-width="0.9"/>
<rect x="343.2" y="33.2" width="9.6" height="9.6" fill="#5977e3" stroke="#3a2626" stroke-opacity="0.62" stroke-width="0.9"/>
<rect x="343.2" y="37.2" width="9.6" height="9.6" fill="#5e7de7" stroke="#3a2626" stroke-opacity="0.62" stroke-width="0.9"/>
<rect x="343.2" y="41.2" width="9.6" height="9.6" fill="#6282ea" stroke="#3a2626" stroke-opacity="0.62" stroke-width="0.9"/>
<rect x="343.2" y="44.2" width="9.6" height="9.6" fill="#6c8ff1" stroke="#3a2626" stroke-opacity="0.62" stroke-width="0.9"/>
<rect x="73.3" y="23.2" width="281.2" height="246.3" fill="none" stroke="#000" stroke-width="1.1"/>
<line x1="67.5" y1="32.0" x2="73.3" y2="32.0" stroke="#000" stroke-width="1.1"/>
<line x1="67.5" y1="71.6" x2="73.3" y2="71.6" stroke="#000" stroke-width="1.1"/>
<line x1="67.5" y1="111.2" x2="73.3" y2="111.2" stroke="#000" stroke-width="1.1"/>
<line x1="67.5" y1="150.7" x2="73.3" y2="150.7" stroke="#000" stroke-width="1.1"/>
<line x1="67.5" y1="190.3" x2="73.3" y2="190.3" stroke="#000" stroke-width="1.1"/>
<line x1="67.5" y1="229.9" x2="73.3" y2="229.9" stroke="#000" stroke-width="1.1"/>
<line x1="67.5" y1="269.5" x2="73.3" y2="269.5" stroke="#000" stroke-width="1.1"/>
<line x1="74.4" y1="269.5" x2="74.4" y2="275.2" stroke="#000" stroke-width="1.1"/>
<line x1="138.1" y1="269.5" x2="138.1" y2="275.2" stroke="#000" stroke-width="1.1"/>
<line x1="201.7" y1="269.5" x2="201.7" y2="275.2" stroke="#000" stroke-width="1.1"/>
<line x1="265.4" y1="269.5" x2="265.4" y2="275.2" stroke="#000" stroke-width="1.1"/>
<line x1="329.0" y1="269.5" x2="329.0" y2="275.2" stroke="#000" stroke-width="1.1"/>
<circle cx="152.6" cy="305" r="2.2" fill="#1a1a1a"/>
<rect x="157.8" y="304.1" width="7.4" height="1" fill="#222"/>
<path d="M419.34,187.11 L419.53,187.11 L419.71,187.11 L419.90,187.11 L420.09,187.11 L420.28,187.11 L420.46,187.11 L420.65,187.11 L420.84,187.11 L421.02,187.11 L421.21,187.11 L421.40,187.11 L421.59,187.11 L421.77,187.11 L421.96,187.11 L422.15,187.11 L422.34,187.11 L422.52,187.11 L422.71,187.11 L422.90,187.11 L423.08,187.11 L423.27,187.11 L423.46,187.11 L423.65,187.11 L423.83,187.11 L424.02,187.11 L424.21,187.11 L424.39,187.11 L424.58,187.11 L424.77,187.11 L424.96,187.11 L425.14,187.11 L425.33,187.11 L425.52,187.11 L425.70,187.11 L425.89,187.11 L426.08,187.11 L426.27,187.11 L426.45,187.11 L426.64,187.11 L426.83,187.11 L427.02,187.11 L427.20,187.11 L427.39,187.11 L427.58,187.11 L427.76,187.11 L427.95,187.11 L428.14,187.11 L428.33,187.11 L428.51,187.11 L428.70,187.11 L428.89,187.11 L429.07,187.11 L429.26,187.11 L429.45,187.11 L429.64,187.11 L429.82,187.11 L430.01,187.11 L430.20,187.11 L430.38,187.11 L430.57,187.11 L430.76,187.11 L430.95,187.11 L431.13,187.11 L431.32,187.11 L431.51,187.11 L431.70,187.11 L431.88,187.11 L432.07,187.11 L432.26,187.11 L432.44,187.11 L432.63,187.11 L432.82,187.11 L433.01,187.11 L433.19,187.11 L433.38,187.11 L433.57,187.11 L433.75,187.11 L433.94,187.11 L434.13,187.11 L434.32,187.11 L434.50,187.11 L434.69,187.11 L434.88,187.11 L435.06,187.11 L435.25,187.11 L435.44,187.11 L435.63,187.11 L435.81,187.11 L436.00,187.11 L436.19,187.11 L436.38,187.11 L436.56,187.11 L436.75,187.11 L436.94,187.11 L437.12,187.11 L437.31,187.11 L437.50,187.11 L437.69,187.11 L437.87,187.11 L438.06,187.11 L438.25,187.11 L438.43,187.11 L438.62,187.11 L438.81,187.11 L439.00,187.11 L439.18,187.11 L439.37,187.11 L439.56,187.11 L439.74,187.11 L439.93,187.11 L440.12,187.11 L440.31,187.11 L440.49,187.11 L440.68,187.11 L440.87,187.11 L441.06,187.11 L441.24,187.11 L441.43,187.11 L441.62,187.11 L441.80,187.11 L441.99,187.11 L442.18,187.11 L442.37,187.11 L442.55,187.11 L442.74,187.11 L442.93,187.11 L443.11,187.11 L443.30,187.11 L443.49,187.11 L443.68,187.11 L443.86,187.11 L444.05,187.11 L444.24,187.11 L444.42,187.11 L444.61,187.11 L444.80,187.11 L444.99,187.11 L445.17,187.11 L445.36,187.11 L445.55,187.11 L445.74,187.11 L445.92,187.11 L446.11,187.11 L446.30,187.11 L446.48,187.11 L446.67,187.11 L446.86,187.11 L447.05,187.11 L447.23,187.11 L447.42,187.11 L447.61,187.11 L447.79,187.11 L447.98,187.11 L448.17,187.11 L448.36,187.11 L448.54,187.11 L448.73,187.11 L448.92,187.11 L449.10,187.11 L449.29,187.11 L449.48,187.11 L449.67,187.11 L449.85,187.11 L450.04,187.11 L450.23,187.11 L450.42,187.11 L450.60,187.11 L450.79,187.11 L450.98,187.11 L451.16,187.11 L451.35,187.11 L451.54,187.11 L451.73,187.11 L451.91,187.11 L452.10,187.11 L452.29,187.11 L452.47,187.11 L452.66,187.11 L452.85,187.11 L453.04,187.11 L453.22,187.11 L453.41,187.11 L453.60,187.11 L453.78,187.11 L453.97,187.11 L454.16,187.11 L454.35,187.11 L454.53,187.11 L454.72,187.11 L454.91,187.11 L455.10,187.11 L455.28,187.11 L455.47,187.11 L455.66,187.11 L455.84,187.11 L456.03,187.11 L456.22,187.11 L456.41,187.11 L456.59,187.11 L456.78,187.11 L456.97,187.11 L457.15,187.11 L457.34,187.11 L457.53,187.11 L457.72,187.11 L457.90,187.11 L458.09,187.11 L458.28,187.11 L458.46,187.11 L458.65,187.11 L458.84,187.11 L459.03,187.11 L459.21,187.11 L459.40,187.11 L459.59,187.11 L459.78,187.11 L459.96,187.11 L460.15,187.11 L460.34,187.11 L460.52,187.11 L460.71,187.11 L460.90,187.11 L461.09,187.11 L461.27,187.11 L461.46,187.11 L461.65,187.11 L461.83,187.11 L462.02,187.11 L462.21,187.11 L462.40,187.11 L462.58,187.11 L462.77,187.11 L462.96,187.11 L463.14,187.11 L463.33,187.11 L463.52,187.11 L463.71,187.11 L463.89,187.11 L464.08,187.11 L464.27,187.11 L464.46,187.11 L464.64,187.11 L464.83,187.11 L465.02,187.11 L465.20,187.11 L465.39,187.11 L465.58,187.11 L465.77,187.11 L465.95,187.11 L466.14,187.11 L466.33,187.11 L466.51,187.11 L466.70,187.11 L466.89,187.11 L467.08,187.11 L467.26,187.11 L467.45,187.11 L467.64,187.11 L467.82,187.11 L468.01,187.11 L468.20,187.11 L468.39,187.11 L468.57,187.11 L468.76,187.11 L468.95,187.11 L469.14,187.11 L469.32,187.11 L469.51,187.11 L469.70,187.11 L469.88,187.11 L470.07,187.11 L470.26,187.11 L470.45,187.11 L470.63,187.11 L470.82,187.11 L471.01,187.11 L471.19,187.11 L471.38,187.11 L471.57,187.11 L471.76,187.11 L471.94,187.11 L472.13,187.11 L472.32,187.11 L472.50,187.11 L472.69,187.11 L472.88,187.11 L473.07,187.11 L473.25,187.11 L473.44,187.11 L473.63,187.11 L473.82,187.11 L474.00,187.11 L474.19,187.11 L474.38,187.11 L474.56,187.11 L474.75,187.11 L474.94,187.11 L475.13,187.11 L475.31,187.11 L475.50,187.11 L475.69,187.11 L475.87,187.11 L476.06,187.11 L476.25,187.11 L476.44,187.11 L476.62,187.11 L476.81,187.11 L477.00,187.11 L477.18,187.11 L477.37,187.11 L477.56,187.11 L477.75,187.11 L477.93,187.11 L478.12,187.11 L478.31,187.11 L478.50,187.11 L478.68,187.11 L478.87,187.11 L479.06,187.11 L479.24,187.11 L479.43,187.11 L479.62,187.11 L479.81,187.11 L479.99,187.11 L480.18,187.11 L480.37,187.11 L480.55,187.11 L480.74,187.11 L480.93,187.11 L481.12,187.11 L481.30,187.11 L481.49,187.11 L481.68,187.11 L481.86,187.11 L482.05,187.11 L482.24,187.11 L482.43,187.11 L482.61,187.11 L482.80,187.11 L482.99,187.11 L483.18,187.11 L483.36,187.11 L483.55,187.11 L483.74,187.11 L483.92,187.11 L484.11,187.11 L484.30,187.11 L484.49,187.11 L484.67,187.11 L484.86,187.11 L485.05,187.11 L485.23,187.11 L485.42,187.11 L485.61,187.11 L485.80,187.11 L485.98,187.11 L486.17,187.11 L486.36,187.11 L486.54,187.11 L486.73,187.11 L486.92,187.11 L487.11,187.11 L487.29,187.11 L487.48,187.11 L487.67,187.11 L487.86,187.11 L488.04,187.11 L488.23,187.11 L488.42,187.11 L488.60,187.11 L488.79,187.11 L488.98,187.11 L489.17,187.11 L489.35,187.11 L489.54,187.11 L489.73,187.11 L489.91,187.11 L490.10,187.11 L490.29,187.11 L490.48,187.11 L490.66,187.11 L490.85,187.11 L491.04,187.11 L491.22,187.11 L491.41,187.11 L491.60,187.11 L491.79,187.11 L491.97,187.11 L492.16,187.11 L492.35,187.11 L492.54,187.11 L492.72,187.11 L492.91,187.11 L493.10,187.11 L493.28,187.11 L493.47,187.11 L493.66,187.11 L493.85,187.11 L494.03,187.11 L494.22,187.11 L494.41,187.11 L494.59,187.11 L494.78,187.11 L494.97,187.11 L495.16,187.11 L495.34,187.11 L495.53,187.11 L495.72,187.11 L495.90,187.11 L496.09,187.11 L496.28,187.11 L496.47,187.11 L496.65,187.11 L496.84,187.11 L497.03,187.11 L497.22,187.11 L497.40,187.11 L497.59,187.11 L497.78,187.11 L497.96,187.11 L498.15,187.11 L498.34,187.11 L498.53,187.11 L498.71,187.11 L498.90,187.11 L499.09,187.11 L499.27,187.11 L499.46,187.11 L499.65,187.11 L499.84,187.11 L500.02,187.11 L500.21,187.11 L500.40,187.11 L500.58,187.11 L500.77,187.11 L500.96,187.11 L501.15,187.11 L501.33,187.11 L501.52,187.11 L501.71,187.11 L501.90,187.11 L502.08,187.11 L502.27,187.11 L502.46,187.11 L502.64,187.11 L502.83,187.11 L503.02,187.11 L503.21,187.11 L503.39,187.11 L503.58,187.11 L503.77,187.11 L503.95,187.11 L504.14,187.11 L504.33,187.11 L504.52,187.11 L504.70,187.11 L504.89,187.11 L505.08,187.11 L505.26,187.11 L505.45,187.11 L505.64,187.11 L505.83,187.11 L506.01,187.11 L506.20,187.11 L506.39,187.11 L506.58,187.11 L506.76,187.11 L506.95,187.11 L507.14,187.11 L507.32,187.11 L507.51,187.11 L507.70,187.11 L507.89,187.11 L508.07,187.11 L508.26,187.11 L508.45,187.11 L508.63,187.11 L508.82,187.11 L509.01,187.11 L509.20,187.11 L509.38,187.11 L509.57,187.11 L509.76,187.11 L509.94,187.11 L510.13,187.11 L510.32,187.11 L510.51,187.11 L510.69,187.11 L510.88,187.11 L511.07,187.11 L511.26,187.11 L511.44,187.11 L511.63,187.11 L511.82,187.11 L512.00,187.11 L512.19,187.11 L512.38,187.11 L512.57,187.11 L512.75,187.11 L512.94,187.11 L513.13,187.11 L513.31,187.11 L513.50,187.11 L513.69,187.11 L513.88,187.11 L514.06,187.11 L514.25,187.11 L514.44,187.11 L514.62,187.11 L514.81,187.11 L515.00,187.11 L515.19,187.11 L515.37,187.11 L515.56,187.11 L515.75,187.11 L515.94,187.11 L516.12,187.11 L516.31,187.11 L516.50,187.11 L516.68,187.11 L516.87,187.11 L517.06,187.11 L517.25,187.11 L517.43,187.11 L517.62,187.11 L517.81,187.11 L517.99,187.11 L518.18,187.11 L518.37,187.11 L518.56,187.11 L518.74,187.11 L518.93,187.11 L519.12,187.11 L519.30,187.11 L519.49,187.11 L519.68,187.11 L519.87,187.11 L520.05,187.11 L520.24,187.11 L520.43,187.11 L520.62,187.11 L520.80,187.11 L520.99,187.11 L521.18,187.11 L521.36,187.11 L521.55,187.11 L521.74,187.11 L521.93,187.11 L522.11,187.11 L522.30,187.11 L522.49,187.11 L522.67,187.11 L522.86,187.11 L523.05,187.11 L523.24,187.11 L523.42,187.11 L523.61,187.11 L523.80,187.11 L523.98,187.11 L524.17,187.11 L524.36,187.11 L524.55,187.11 L524.73,187.11 L524.92,187.11 L525.11,187.11 L525.30,187.11 L525.48,187.11 L525.67,187.11 L525.86,187.11 L526.04,187.11 L526.23,187.11 L526.42,187.11 L526.61,187.11 L526.79,187.11 L526.98,187.11 L527.17,187.11 L527.35,187.11 L527.54,187.11 L527.73,187.11 L527.92,187.11 L528.10,187.11 L528.29,187.11 L528.48,187.11 L528.66,187.11 L528.85,187.11 L529.04,187.11 L529.23,187.11 L529.41,187.11 L529.60,187.11 L529.79,187.11 L529.98,187.11 L530.16,187.11 L530.35,187.11 L530.54,187.11 L530.72,187.11 L530.91,187.11 L531.10,187.11 L531.29,187.11 L531.47,187.11 L531.66,187.11 L531.85,187.11 L532.03,187.11 L532.22,187.11 L532.41,187.11 L532.60,187.11 L532.78,187.11 L532.97,187.11 L533.16,187.11 L533.34,187.11 L533.53,187.11 L533.72,187.11 L533.91,187.11 L534.09,187.11 L534.28,187.11 L534.47,187.11 L534.66,187.11 L534.84,187.11 L535.03,187.11 L535.22,187.11 L535.40,187.11 L535.59,187.11 L535.78,187.11 L535.97,187.11 L536.15,187.11 L536.34,187.11 L536.53,187.11 L536.71,187.11 L536.90,187.11 L537.09,187.11 L537.28,187.11 L537.46,187.11 L537.65,187.11 L537.84,187.11 L538.02,187.11 L538.21,187.11 L538.40,187.11 L538.59,187.11 L538.77,187.11 L538.96,187.11 L539.15,187.11 L539.34,187.11 L539.52,187.11 L539.71,187.11 L539.90,187.11 L540.08,187.11 L540.27,187.11 L540.46,187.11 L540.65,187.11 L540.83,187.11 L541.02,187.11 L541.21,187.11 L541.39,187.11 L541.58,187.11 L541.77,187.11 L541.96,187.11 L542.14,187.11 L542.33,187.11 L542.52,187.11 L542.70,187.11 L542.89,187.11 L543.08,187.11 L543.27,187.11 L543.45,187.11 L543.64,187.11 L543.83,187.11 L544.02,187.11 L544.20,187.11 L544.39,187.11 L544.58,187.11 L544.76,187.11 L544.95,187.11 L545.14,187.11 L545.33,187.11 L545.51,187.11 L545.70,187.11 L545.89,187.11 L546.07,187.11 L546.26,187.11 L546.45,187.11 L546.64,187.11 L546.82,187.11 L547.01,187.11 L547.20,187.11 L547.38,187.11 L547.57,187.11 L547.76,187.11 L547.95,187.11 L548.13,187.11 L548.32,187.11 L548.51,187.11 L548.70,187.11 L548.88,187.11 L549.07,187.11 L549.26,187.11 L549.44,187.11 L549.63,187.11 L549.82,187.11 L550.01,187.11 L550.19,187.11 L550.38,187.11 L550.57,187.11 L550.75,187.11 L550.94,187.11 L551.13,187.11 L551.32,187.11 L551.50,187.11 L551.69,187.11 L551.88,187.11 L552.06,187.11 L552.25,187.11 L552.44,187.11 L552.63,187.11 L552.81,187.11 L553.00,187.11 L553.19,187.11 L553.38,187.11 L553.56,187.11 L553.75,187.11 L553.94,187.11 L554.12,187.11 L554.31,187.11 L554.50,187.11 L554.69,187.11 L554.87,187.11 L555.06,187.11 L555.25,187.11 L555.43,187.11 L555.62,187.11 L555.81,187.11 L556.00,187.11 L556.18,187.11 L556.37,187.11 L556.56,187.11 L556.74,187.11 L556.93,187.11 L557.12,187.11 L557.31,187.11 L557.49,187.11 L557.68,187.11 L557.87,187.11 L558.06,187.11 L558.24,187.11 L558.43,187.11 L558.62,187.11 L558.80,187.11 L558.99,187.11 L559.18,187.11 L559.37,187.11 L559.55,187.11 L559.74,187.11 L559.93,187.11 L560.11,187.11 L560.30,187.11 L560.49,187.11 L560.68,187.11 L560.86,187.11 L561.05,187.11 L561.24,187.11 L561.42,187.11 L561.61,187.11 L561.80,187.11 L561.99,187.11 L562.17,187.11 L562.36,187.11 L562.55,187.11 L562.74,187.11 L562.92,187.11 L563.11,187.11 L563.30,187.11 L563.48,187.11 L563.67,187.11 L563.86,187.11 L564.05,187.11 L564.23,187.11 L564.42,187.11 L564.61,187.11 L564.79,187.11 L564.98,187.11 L565.17,187.11 L565.36,187.11 L565.54,187.11 L565.73,187.11 L565.92,187.11 L566.10,187.11 L566.29,187.11 L566.48,187.11 L566.67,187.11 L566.85,187.11 L567.04,187.11 L567.23,187.11 L567.42,187.11 L567.60,187.11 L567.79,187.11 L567.98,187.11 L568.16,187.11 L568.35,187.11 L568.54,187.11 L568.73,187.11 L568.91,187.11 L569.10,187.11 L569.29,187.11 L569.47,187.11 L569.66,187.11 L569.85,187.11 L570.04,187.11 L570.22,187.11 L570.41,187.11 L570.60,187.11 L570.78,187.11 L570.97,187.11 L571.16,187.11 L571.35,187.11 L571.53,187.11 L571.72,187.11 L571.91,187.11 L572.10,187.11 L572.28,187.11 L572.47,187.11 L572.66,187.11 L572.84,187.11 L573.03,187.11 L573.22,187.11 L573.41,187.11 L573.59,187.11 L573.78,187.11 L573.97,187.11 L574.15,187.11 L574.34,187.11 L574.53,187.11 L574.72,187.11 L574.90,187.11 L575.09,187.11 L575.28,187.11 L575.46,187.11 L575.65,187.11 L575.84,187.11 L576.03,187.11 L576.21,187.11 L576.40,187.11 L576.59,187.11 L576.78,187.11 L576.96,187.11 L577.15,187.11 L577.34,187.11 L577.52,187.11 L577.71,187.11 L577.90,187.11 L578.09,187.11 L578.27,187.11 L578.46,187.11 L578.65,187.11 L578.83,187.11 L579.02,187.11 L579.21,187.11 L579.40,187.11 L579.58,187.11 L579.77,187.11 L579.96,187.11 L580.14,187.11 L580.33,187.11 L580.52,187.11 L580.71,187.11 L580.89,187.11 L581.08,187.11 L581.27,187.11 L581.46,187.11 L581.64,187.11 L581.83,187.11 L582.02,187.11 L582.20,187.11 L582.39,187.11 L582.58,187.11 L582.77,187.11 L582.95,187.11 L583.14,187.11 L583.33,187.11 L583.51,187.11 L583.70,187.11 L583.89,187.11 L584.08,187.11 L584.26,187.11 L584.45,187.11 L584.64,187.11 L584.82,187.11 L585.01,187.11 L585.20,187.11 L585.39,187.11 L585.57,187.11 L585.76,187.11 L585.95,187.11 L586.14,187.11 L586.32,187.11 L586.51,187.11 L586.70,187.11 L586.88,187.11 L587.07,187.11 L587.26,187.11 L587.45,187.11 L587.63,187.11 L587.82,187.11 L588.01,187.11 L588.19,187.11 L588.38,187.11 L588.57,187.11 L588.76,187.11 L588.94,187.11 L589.13,187.11 L589.32,187.11 L589.50,187.11 L589.69,187.11 L589.88,187.11 L590.07,187.11 L590.25,187.11 L590.44,187.11 L590.63,187.11 L590.82,187.11 L591.00,187.11 L591.19,187.11 L591.38,187.11 L591.56,187.11 L591.75,187.11 L591.94,187.11 L592.13,187.11 L592.31,187.11 L592.50,187.11 L592.69,187.11 L592.87,187.11 L593.06,187.11 L593.25,187.11 L593.44,187.11 L593.62,187.11 L593.81,187.11 L594.00,187.11 L594.18,187.11 L594.37,187.11 L594.56,187.11 L594.75,187.11 L594.93,187.11 L595.12,187.11 L595.31,187.11 L595.50,187.11 L595.68,187.11 L595.87,187.11 L596.06,187.11 L596.24,187.11 L596.43,187.11 L596.62,187.11 L596.81,187.11 L596.99,187.11 L597.18,187.11 L597.37,187.11 L597.55,187.11 L597.74,187.11 L597.93,187.11 L598.12,187.11 L598.30,187.11 L598.49,187.11 L598.68,187.11 L598.86,187.11 L599.05,187.11 L599.24,187.11 L599.43,187.11 L599.61,187.11 L599.80,187.11 L599.99,187.11 L600.18,187.11 L600.36,187.11 L600.55,187.11 L600.74,187.11 L600.92,187.11 L601.11,187.11 L601.30,187.11 L601.49,187.11 L601.67,187.11 L601.86,187.11 L602.05,187.11 L602.23,187.11 L602.42,187.11 L602.61,187.11 L602.80,187.11 L602.98,187.11 L603.17,187.11 L603.36,187.11 L603.54,187.11 L603.73,187.11 L603.92,187.11 L604.11,187.11 L604.29,187.11 L604.48,187.11 L604.67,187.11 L604.86,187.11 L605.04,187.11 L605.23,187.11 L605.42,187.11 L605.60,187.11 L605.79,187.11 L605.98,187.11 L606.17,187.11 L606.35,187.11 L606.54,187.11 L606.73,187.11 L606.91,187.11 L607.10,187.11 L607.29,187.11 L607.48,187.11 L607.66,187.11 L607.85,187.11 L608.04,187.11 L608.22,187.11 L608.41,187.11 L608.60,187.11 L608.79,187.11 L608.97,187.11 L609.16,187.11 L609.35,187.11 L609.54,187.11 L609.72,187.11 L609.91,187.11 L610.10,187.10 L610.28,187.10 L610.47,187.10 L610.66,187.10 L610.85,187.10 L611.03,187.10 L611.22,187.10 L611.41,187.10 L611.59,187.10 L611.78,187.10 L611.97,187.10 L612.16,187.10 L612.34,187.10 L612.53,187.10 L612.72,187.10 L612.90,187.10 L613.09,187.10 L613.28,187.10 L613.47,187.10 L613.65,187.10 L613.84,187.10 L614.03,187.10 L614.22,187.10 L614.40,187.10 L614.59,187.10 L614.78,187.10 L614.96,187.10 L615.15,187.10 L615.34,187.10 L615.53,187.10 L615.71,187.10 L615.90,187.10 L616.09,187.10 L616.27,187.10 L616.46,187.10 L616.65,187.10 L616.84,187.10 L617.02,187.10 L617.21,187.10 L617.40,187.09 L617.58,187.09 L617.77,187.09 L617.96,187.09 L618.15,187.09 L618.33,187.09 L618.52,187.09 L618.71,187.09 L618.90,187.09 L619.08,187.09 L619.27,187.09 L619.46,187.09 L619.64,187.09 L619.83,187.09 L620.02,187.09 L620.21,187.09 L620.39,187.09 L620.58,187.09 L620.77,187.09 L620.95,187.09 L621.14,187.08 L621.33,187.08 L621.52,187.08 L621.70,187.08 L621.89,187.08 L622.08,187.08 L622.26,187.08 L622.45,187.08 L622.64,187.08 L622.83,187.08 L623.01,187.08 L623.20,187.08 L623.39,187.08 L623.58,187.07 L623.76,187.07 L623.95,187.07 L624.14,187.07 L624.32,187.07 L624.51,187.07 L624.70,187.07 L624.89,187.07 L625.07,187.07 L625.26,187.07 L625.45,187.07 L625.63,187.06 L625.82,187.06 L626.01,187.06 L626.20,187.06 L626.38,187.06 L626.57,187.06 L626.76,187.06 L626.94,187.06 L627.13,187.05 L627.32,187.05 L627.51,187.05 L627.69,187.05 L627.88,187.05 L628.07,187.05 L628.26,187.05 L628.44,187.04 L628.63,187.04 L628.82,187.04 L629.00,187.04 L629.19,187.04 L629.38,187.04 L629.57,187.03 L629.75,187.03 L629.94,187.03 L630.13,187.03 L630.31,187.03 L630.50,187.02 L630.69,187.02 L630.88,187.02 L631.06,187.02 L631.25,187.02 L631.44,187.01 L631.62,187.01 L631.81,187.01 L632.00,187.01 L632.19,187.00 L632.37,187.00 L632.56,187.00 L632.75,187.00 L632.94,186.99 L633.12,186.99 L633.31,186.99 L633.50,186.99 L633.68,186.98 L633.87,186.98 L634.06,186.98 L634.25,186.97 L634.43,186.97 L634.62,186.97 L634.81,186.96 L634.99,186.96 L635.18,186.96 L635.37,186.95 L635.56,186.95 L635.74,186.95 L635.93,186.94 L636.12,186.94 L636.30,186.93 L636.49,186.93 L636.68,186.93 L636.87,186.92 L637.05,186.92 L637.24,186.91 L637.43,186.91 L637.62,186.90 L637.80,186.90 L637.99,186.89 L638.18,186.89 L638.36,186.88 L638.55,186.88 L638.74,186.87 L638.93,186.87 L639.11,186.86 L639.30,186.85 L639.49,186.85 L639.67,186.84 L639.86,186.84 L640.05,186.83 L640.24,186.82 L640.42,186.82 L640.61,186.81 L640.80,186.80 L640.98,186.80 L641.17,186.79 L641.36,186.78 L641.55,186.77 L641.73,186.77 L641.92,186.76 L642.11,186.75 L642.30,186.74 L642.48,186.73 L642.67,186.72 L642.86,186.71 L643.04,186.70 L643.23,186.70 L643.42,186.69 L643.61,186.68 L643.79,186.67 L643.98,186.65 L644.17,186.64 L644.35,186.63 L644.54,186.62 L644.73,186.61 L644.92,186.60 L645.10,186.59 L645.29,186.57 L645.48,186.56 L645.66,186.55 L645.85,186.54 L646.04,186.52 L646.23,186.51 L646.41,186.50 L646.60,186.48 L646.79,186.47 L646.98,186.45 L647.16,186.44 L647.35,186.42 L647.54,186.40 L647.72,186.39 L647.91,186.37 L648.10,186.35 L648.29,186.34 L648.47,186.32 L648.66,186.30 L648.85,186.28 L649.03,186.26 L649.22,186.24 L649.41,186.22 L649.60,186.20 L649.78,186.18 L649.97,186.16 L650.16,186.13 L650.34,186.11 L650.53,186.09 L650.72,186.06 L650.91,186.04 L651.09,186.02 L651.28,185.99 L651.47,185.96 L651.66,185.94 L651.84,185.91 L652.03,185.88 L652.22,185.85 L652.40,185.82 L652.59,185.79 L652.78,185.76 L652.97,185.73 L653.15,185.70 L653.34,185.67 L653.53,185.63 L653.71,185.60 L653.90,185.56 L654.09,185.53 L654.28,185.49 L654.46,185.45 L654.65,185.41 L654.84,185.37 L655.02,185.33 L655.21,185.29 L655.40,185.25 L655.59,185.21 L655.77,185.16 L655.96,185.12 L656.15,185.07 L656.34,185.02 L656.52,184.97 L656.71,184.92 L656.90,184.87 L657.08,184.82 L657.27,184.77 L657.46,184.71 L657.65,184.66 L657.83,184.60 L658.02,184.54 L658.21,184.48 L658.39,184.42 L658.58,184.36 L658.77,184.29 L658.96,184.23 L659.14,184.16 L659.33,184.09 L659.52,184.02 L659.70,183.95 L659.89,183.88 L660.08,183.80 L660.27,183.72 L660.45,183.64 L660.64,183.56 L660.83,183.48 L661.02,183.40 L661.20,183.31 L661.39,183.22 L661.58,183.13 L661.76,183.04 L661.95,182.94 L662.14,182.85 L662.33,182.75 L662.51,182.64 L662.70,182.54 L662.89,182.43 L663.07,182.32 L663.26,182.21 L663.45,182.10 L663.64,181.98 L663.82,181.86 L664.01,181.74 L664.20,181.62 L664.38,181.49 L664.57,181.36 L664.76,181.22 L664.95,181.09 L665.13,180.94 L665.32,180.80 L665.51,180.65 L665.70,180.50 L665.88,180.35 L666.07,180.19 L666.26,180.03 L666.44,179.87 L666.63,179.70 L666.82,179.52 L667.01,179.35 L667.19,179.17 L667.38,178.98 L667.57,178.79 L667.75,178.60 L667.94,178.40 L668.13,178.20 L668.32,177.99 L668.50,177.78 L668.69,177.56 L668.88,177.34 L669.06,177.11 L669.25,176.88 L669.44,176.64 L669.63,176.39 L669.81,176.14 L670.00,175.89 L670.19,175.63 L670.38,175.36 L670.56,175.09 L670.75,174.81 L670.94,174.52 L671.12,174.23 L671.31,173.93 L671.50,173.62 L671.69,173.31 L671.87,172.98 L672.06,172.65 L672.25,172.32 L672.43,171.97 L672.62,171.62 L672.81,171.26 L673.00,170.89 L673.18,170.51 L673.37,170.13 L673.56,169.73 L673.74,169.33 L673.93,168.91 L674.12,168.49 L674.31,168.05 L674.49,167.61 L674.68,167.15 L674.87,166.69 L675.06,166.21 L675.24,165.73 L675.43,165.23 L675.62,164.72 L675.80,164.20 L675.99,163.66 L676.18,163.12 L676.37,162.56 L676.55,161.99 L676.74,161.40 L676.93,160.80 L677.11,160.19 L677.30,159.56 L677.49,158.92 L677.68,158.27 L677.86,157.59 L678.05,156.91 L678.24,156.20 L678.42,155.48 L678.61,154.75 L678.80,153.99 L678.99,153.22 L679.17,152.43 L679.36,151.62 L679.55,150.80 L679.74,149.95 L679.92,149.08 L680.11,148.20 L680.30,147.29 L680.48,146.36 L680.67,145.42 L680.86,144.44 L681.05,143.45 L681.23,142.43 L681.42,141.39 L681.61,140.33 L681.79,139.24 L681.98,138.12 L682.17,136.98 L682.36,135.81 L682.54,134.62 L682.73,133.40 L682.92,132.15 L683.10,130.87 L683.29,129.56 L683.48,128.21 L683.67,126.84 L683.85,125.44 L684.04,124.00 L684.23,122.53 L684.42,121.03 L684.60,119.49 L684.79,117.91 L684.98,116.30 L685.16,114.65 L685.35,112.96 L685.54,111.24 L685.73,109.47 L685.91,107.66 L686.10,105.81 L686.29,103.92 L686.47,101.98 L686.66,100.00 L686.85,97.97 L687.04,95.89 L687.22,93.77 L687.41,91.59 L687.60,89.37 L687.78,87.09 L687.97,84.76 L688.16,82.38 L688.35,79.94 L688.53,77.44 L688.72,74.89 L688.91,72.27 L689.10,69.60 L689.28,66.86 L689.47,64.06 L689.66,61.19 L689.84,58.26 L690.03,55.26 L690.22,52.19 L690.41,49.04 L690.59,45.83 L690.78,42.54 L690.97,39.17 L691.15,35.72 L691.34,32.20 L691.53,28.59 L691.72,24.90 L691.90,21.12 L692.09,17.25" fill="none" stroke="#444" stroke-width="2.4" stroke-dasharray="11.8 12.62" stroke-dashoffset="5.76" clip-path="url(#clipb)"/>
<line x1="452.3" y1="111.3" x2="452.3" y2="150.0" stroke="#888" stroke-width="1.1"/>
<line x1="461.0" y1="152.9" x2="461.0" y2="180.1" stroke="#888" stroke-width="1.1"/>
<line x1="497.5" y1="159.3" x2="497.5" y2="185.8" stroke="#888" stroke-width="1.1"/>
<line x1="506.0" y1="162.2" x2="506.0" y2="186.7" stroke="#888" stroke-width="1.1"/>
<line x1="509.5" y1="172.1" x2="509.5" y2="194.6" stroke="#888" stroke-width="1.1"/>
<line x1="517.3" y1="176.1" x2="517.3" y2="198.6" stroke="#888" stroke-width="1.1"/>
<line x1="521.4" y1="172.1" x2="521.4" y2="194.6" stroke="#888" stroke-width="1.1"/>
<line x1="521.4" y1="177.1" x2="521.4" y2="199.6" stroke="#888" stroke-width="1.1"/>
<line x1="522.4" y1="180.2" x2="522.4" y2="202.7" stroke="#888" stroke-width="1.1"/>
<line x1="534.2" y1="186.1" x2="534.2" y2="208.6" stroke="#888" stroke-width="1.1"/>
<line x1="542.5" y1="172.1" x2="542.5" y2="194.6" stroke="#888" stroke-width="1.1"/>
<line x1="541.5" y1="178.1" x2="541.5" y2="200.6" stroke="#888" stroke-width="1.1"/>
<line x1="548.6" y1="180.2" x2="548.6" y2="202.7" stroke="#888" stroke-width="1.1"/>
<line x1="550.7" y1="179.4" x2="550.7" y2="201.9" stroke="#888" stroke-width="1.1"/>
<line x1="564.8" y1="179.4" x2="564.8" y2="201.9" stroke="#888" stroke-width="1.1"/>
<line x1="588.7" y1="179.4" x2="588.7" y2="201.9" stroke="#888" stroke-width="1.1"/>
<line x1="599.1" y1="183.3" x2="599.1" y2="205.8" stroke="#888" stroke-width="1.1"/>
<line x1="607.4" y1="159.2" x2="607.4" y2="181.8" stroke="#888" stroke-width="1.1"/>
<line x1="614.0" y1="159.2" x2="614.0" y2="181.8" stroke="#888" stroke-width="1.1"/>
<line x1="610.7" y1="168.3" x2="610.7" y2="189.8" stroke="#888" stroke-width="1.1"/>
<line x1="612.8" y1="175.9" x2="612.8" y2="197.4" stroke="#888" stroke-width="1.1"/>
<line x1="623.3" y1="154.8" x2="623.3" y2="177.3" stroke="#888" stroke-width="1.1"/>
<line x1="629.8" y1="163.6" x2="629.8" y2="186.1" stroke="#888" stroke-width="1.1"/>
<line x1="630.9" y1="175.9" x2="630.9" y2="197.4" stroke="#888" stroke-width="1.1"/>
<line x1="634.3" y1="180.3" x2="634.3" y2="201.8" stroke="#888" stroke-width="1.1"/>
<line x1="642.0" y1="167.4" x2="642.0" y2="189.9" stroke="#888" stroke-width="1.1"/>
<line x1="649.5" y1="168.9" x2="649.5" y2="191.4" stroke="#888" stroke-width="1.1"/>
<line x1="656.6" y1="161.3" x2="656.6" y2="183.8" stroke="#888" stroke-width="1.1"/>
<line x1="652.6" y1="174.4" x2="652.6" y2="196.9" stroke="#888" stroke-width="1.1"/>
<line x1="660.2" y1="167.8" x2="660.2" y2="190.3" stroke="#888" stroke-width="1.1"/>
<line x1="665.7" y1="164.7" x2="665.7" y2="187.2" stroke="#888" stroke-width="1.1"/>
<line x1="668.3" y1="167.8" x2="668.3" y2="190.3" stroke="#888" stroke-width="1.1"/>
<line x1="656.3" y1="171.2" x2="656.3" y2="193.7" stroke="#888" stroke-width="1.1"/>
<line x1="659.1" y1="174.4" x2="659.1" y2="196.9" stroke="#888" stroke-width="1.1"/>
<line x1="667.2" y1="177.7" x2="667.2" y2="200.2" stroke="#888" stroke-width="1.1"/>
<rect x="447.6" y="125.9" width="9.5" height="9.5" fill="#be242e" stroke="#2a2a2a" stroke-opacity="0.8" stroke-width="0.9"/>
<rect x="456.2" y="161.8" width="9.5" height="9.5" fill="#de614d" stroke="#2a2a2a" stroke-opacity="0.8" stroke-width="0.9"/>
<rect x="492.8" y="167.8" width="9.5" height="9.5" fill="#f6a283" stroke="#2a2a2a" stroke-opacity="0.8" stroke-width="0.9"/>
<rect x="501.2" y="169.7" width="9.5" height="9.5" fill="#be242e" stroke="#2a2a2a" stroke-opacity="0.8" stroke-width="0.9"/>
<rect x="504.8" y="178.6" width="9.5" height="9.5" fill="#f39778" stroke="#2a2a2a" stroke-opacity="0.8" stroke-width="0.9"/>
<rect x="512.5" y="182.6" width="9.5" height="9.5" fill="#e26952" stroke="#2a2a2a" stroke-opacity="0.8" stroke-width="0.9"/>
<rect x="516.6" y="178.6" width="9.5" height="9.5" fill="#da5a49" stroke="#2a2a2a" stroke-opacity="0.8" stroke-width="0.9"/>
<rect x="516.6" y="183.6" width="9.5" height="9.5" fill="#f6a283" stroke="#2a2a2a" stroke-opacity="0.8" stroke-width="0.9"/>
<rect x="517.6" y="186.7" width="9.5" height="9.5" fill="#f6a283" stroke="#2a2a2a" stroke-opacity="0.8" stroke-width="0.9"/>
<rect x="529.5" y="192.6" width="9.5" height="9.5" fill="#f7ac8e" stroke="#2a2a2a" stroke-opacity="0.8" stroke-width="0.9"/>
<rect x="537.8" y="178.6" width="9.5" height="9.5" fill="#e26952" stroke="#2a2a2a" stroke-opacity="0.8" stroke-width="0.9"/>
<rect x="536.8" y="184.6" width="9.5" height="9.5" fill="#f6a283" stroke="#2a2a2a" stroke-opacity="0.8" stroke-width="0.9"/>
<rect x="543.9" y="186.7" width="9.5" height="9.5" fill="#f7a889" stroke="#2a2a2a" stroke-opacity="0.8" stroke-width="0.9"/>
<rect x="546.0" y="185.9" width="9.5" height="9.5" fill="#f7ac8e" stroke="#2a2a2a" stroke-opacity="0.8" stroke-width="0.9"/>
<rect x="560.0" y="185.9" width="9.5" height="9.5" fill="#f6bfa6" stroke="#2a2a2a" stroke-opacity="0.8" stroke-width="0.9"/>
<rect x="584.0" y="185.9" width="9.5" height="9.5" fill="#f6bfa6" stroke="#2a2a2a" stroke-opacity="0.8" stroke-width="0.9"/>
<rect x="594.4" y="189.8" width="9.5" height="9.5" fill="#f7ba9f" stroke="#2a2a2a" stroke-opacity="0.8" stroke-width="0.9"/>
<rect x="602.6" y="165.8" width="9.5" height="9.5" fill="#f2cbb7" stroke="#2a2a2a" stroke-opacity="0.8" stroke-width="0.9"/>
<rect x="609.2" y="165.8" width="9.5" height="9.5" fill="#f2cbb7" stroke="#2a2a2a" stroke-opacity="0.8" stroke-width="0.9"/>
<rect x="606.0" y="174.3" width="9.5" height="9.5" fill="#e0dbd8" stroke="#2a2a2a" stroke-opacity="0.8" stroke-width="0.9"/>
<rect x="608.0" y="181.9" width="9.5" height="9.5" fill="#dddcdc" stroke="#2a2a2a" stroke-opacity="0.8" stroke-width="0.9"/>
<rect x="618.5" y="161.3" width="9.5" height="9.5" fill="#d5dbe5" stroke="#2a2a2a" stroke-opacity="0.8" stroke-width="0.9"/>
<rect x="625.0" y="170.1" width="9.5" height="9.5" fill="#c9d7f0" stroke="#2a2a2a" stroke-opacity="0.8" stroke-width="0.9"/>
<rect x="626.1" y="181.9" width="9.5" height="9.5" fill="#d2dbe8" stroke="#2a2a2a" stroke-opacity="0.8" stroke-width="0.9"/>
<rect x="629.5" y="186.3" width="9.5" height="9.5" fill="#b2ccfb" stroke="#2a2a2a" stroke-opacity="0.8" stroke-width="0.9"/>
<rect x="637.2" y="173.9" width="9.5" height="9.5" fill="#b2ccfb" stroke="#2a2a2a" stroke-opacity="0.8" stroke-width="0.9"/>
<rect x="644.8" y="175.4" width="9.5" height="9.5" fill="#a9c6fd" stroke="#2a2a2a" stroke-opacity="0.8" stroke-width="0.9"/>
<rect x="651.9" y="167.8" width="9.5" height="9.5" fill="#5e7de7" stroke="#2a2a2a" stroke-opacity="0.8" stroke-width="0.9"/>
<rect x="647.9" y="180.9" width="9.5" height="9.5" fill="#6788ee" stroke="#2a2a2a" stroke-opacity="0.8" stroke-width="0.9"/>
<rect x="655.5" y="174.3" width="9.5" height="9.5" fill="#5e7de7" stroke="#2a2a2a" stroke-opacity="0.8" stroke-width="0.9"/>
<rect x="661.0" y="171.2" width="9.5" height="9.5" fill="#5977e3" stroke="#2a2a2a" stroke-opacity="0.8" stroke-width="0.9"/>
<rect x="663.5" y="174.3" width="9.5" height="9.5" fill="#5977e3" stroke="#2a2a2a" stroke-opacity="0.8" stroke-width="0.9"/>
<rect x="651.5" y="177.7" width="9.5" height="9.5" fill="#6788ee" stroke="#2a2a2a" stroke-opacity="0.8" stroke-width="0.9"/>
<rect x="654.4" y="180.9" width="9.5" height="9.5" fill="#5e7de7" stroke="#2a2a2a" stroke-opacity="0.8" stroke-width="0.9"/>
<rect x="662.5" y="184.2" width="9.5" height="9.5" fill="#6788ee" stroke="#2a2a2a" stroke-opacity="0.8" stroke-width="0.9"/>
<rect x="428.7" y="183" width="242.8" height="5.6" fill="#2ca02c" fill-opacity="0.4"/>
<polygon points="555.70,239.40 556.86,243.00 560.65,242.99 557.58,245.21 558.76,248.81 555.70,246.58 552.64,248.81 553.82,245.21 550.75,242.99 554.54,243.00" fill="none" stroke="#f82a36" stroke-width="1.1"/>
<polygon points="582.40,230.00 583.56,233.60 587.35,233.59 584.28,235.81 585.46,239.41 582.40,237.18 579.34,239.41 580.52,235.81 577.45,233.59 581.24,233.60" fill="none" stroke="#f82a36" stroke-width="1.1"/>
<polygon points="590.00,222.00 591.16,225.60 594.95,225.59 591.88,227.81 593.06,231.41 590.00,229.18 586.94,231.41 588.12,227.81 585.05,225.59 588.84,225.60" fill="none" stroke="#f82a36" stroke-width="1.1"/>
<polygon points="608.70,232.50 609.86,236.10 613.65,236.09 610.58,238.31 611.76,241.91 608.70,239.68 605.64,241.91 606.82,238.31 603.75,236.09 607.54,236.10" fill="none" stroke="#f82a36" stroke-width="1.1"/>
<polygon points="607.40,236.90 608.56,240.50 612.35,240.49 609.28,242.71 610.46,246.31 607.40,244.08 604.34,246.31 605.52,242.71 602.45,240.49 606.24,240.50" fill="none" stroke="#f82a36" stroke-width="1.1"/>
<polygon points="616.90,215.80 618.06,219.40 621.85,219.39 618.78,221.61 619.96,225.21 616.90,222.98 613.84,225.21 615.02,221.61 611.95,219.39 615.74,219.40" fill="none" stroke="#f82a36" stroke-width="1.1"/>
<polygon points="617.90,232.00 619.06,235.60 622.85,235.59 619.78,237.81 620.96,241.41 617.90,239.18 614.84,241.41 616.02,237.81 612.95,235.59 616.74,235.60" fill="none" stroke="#f82a36" stroke-width="1.1"/>
<polygon points="636.80,205.90 637.96,209.50 641.75,209.49 638.68,211.71 639.86,215.31 636.80,213.08 633.74,215.31 634.92,211.71 631.85,209.49 635.64,209.50" fill="none" stroke="#f82a36" stroke-width="1.1"/>
<polygon points="667.00,225.80 668.16,229.40 671.95,229.39 668.88,231.61 670.06,235.21 667.00,232.98 663.94,235.21 665.12,231.61 662.05,229.39 665.84,229.40" fill="none" stroke="#f82a36" stroke-width="1.1"/>
<polygon points="675.70,223.30 676.86,226.90 680.65,226.89 677.58,229.11 678.76,232.71 675.70,230.48 672.64,232.71 673.82,229.11 670.75,226.89 674.54,226.90" fill="none" stroke="#f82a36" stroke-width="1.1"/>
<polygon points="679.00,249.90 680.16,253.50 683.95,253.49 680.88,255.71 682.06,259.31 679.00,257.08 675.94,259.31 677.12,255.71 674.05,253.49 677.84,253.50" fill="none" stroke="#f82a36" stroke-width="1.1"/>
<polygon points="646.70,192.40 647.93,196.21 651.93,196.20 648.69,198.55 649.93,202.35 646.70,199.99 643.47,202.35 644.71,198.55 641.47,196.20 645.47,196.21" fill="#ff0000" stroke="#ff0000" stroke-width="0.5"/>
<polygon points="654.10,186.90 655.33,190.71 659.33,190.70 656.09,193.05 657.33,196.85 654.10,194.49 650.87,196.85 652.11,193.05 648.87,190.70 652.87,190.71" fill="#ff0000" stroke="#ff0000" stroke-width="0.5"/>
<polygon points="662.40,181.40 663.63,185.21 667.63,185.20 664.39,187.55 665.63,191.35 662.40,188.99 659.17,191.35 660.41,187.55 657.17,185.20 661.17,185.21" fill="#ff0000" stroke="#ff0000" stroke-width="0.5"/>
<polygon points="668.30,139.50 669.53,143.31 673.53,143.30 670.29,145.65 671.53,149.45 668.30,147.09 665.07,149.45 666.31,145.65 663.07,143.30 667.07,143.31" fill="#ff0000" stroke="#ff0000" stroke-width="0.5"/>
<polygon points="672.20,136.00 673.43,139.81 677.43,139.80 674.19,142.15 675.43,145.95 672.20,143.59 668.97,145.95 670.21,142.15 666.97,139.80 670.97,139.81" fill="#ff0000" stroke="#ff0000" stroke-width="0.5"/>
<polygon points="670.60,36.70 679.80,36.70 675.20,45.90" fill="#800080" stroke="#800080" stroke-width="0.6"/>
<polygon points="670.60,42.10 679.80,42.10 675.20,51.30" fill="#800080" stroke="#800080" stroke-width="0.6"/>
<polygon points="664.70,79.10 673.90,79.10 669.30,88.30" fill="#800080" stroke="#800080" stroke-width="0.6"/>
<polygon points="670.20,87.80 679.40,87.80 674.80,97.00" fill="#800080" stroke="#800080" stroke-width="0.6"/>
<polygon points="669.70,110.40 678.90,110.40 674.30,119.60" fill="#800080" stroke="#800080" stroke-width="0.6"/>
<polygon points="651.10,150.60 660.30,150.60 655.70,159.80" fill="#800080" stroke="#800080" stroke-width="0.6"/>
<polygon points="682.30,148.60 691.50,148.60 686.90,157.80" fill="none" stroke="#9030a0" stroke-width="1.1"/>
<polygon points="684.40,158.20 693.60,158.20 689.00,167.40" fill="none" stroke="#9030a0" stroke-width="1.1"/>
<polygon points="681.70,164.40 690.90,164.40 686.30,173.60" fill="none" stroke="#9030a0" stroke-width="1.1"/>
<polygon points="675.80,168.80 685.00,168.80 680.40,178.00" fill="none" stroke="#9030a0" stroke-width="1.1"/>
<polygon points="683.20,172.60 692.40,172.60 687.80,181.80" fill="none" stroke="#9030a0" stroke-width="1.1"/>
<polygon points="684.40,177.40 693.60,177.40 689.00,186.60" fill="none" stroke="#9030a0" stroke-width="1.1"/>
<polygon points="685.40,179.90 694.60,179.90 690.00,189.10" fill="none" stroke="#9030a0" stroke-width="1.1"/>
<polygon points="685.90,182.90 695.10,182.90 690.50,192.10" fill="none" stroke="#9030a0" stroke-width="1.1"/>
<polygon points="685.40,191.00 694.60,191.00 690.00,200.20" fill="none" stroke="#9030a0" stroke-width="1.1"/>
<rect x="428.7" y="23.2" width="280.8" height="246.3" fill="none" stroke="#000" stroke-width="1.1"/>
<line x1="423.2" y1="259.4" x2="428.7" y2="259.4" stroke="#000" stroke-width="1.1"/>
<line x1="423.2" y1="219.2" x2="428.7" y2="219.2" stroke="#000" stroke-width="1.1"/>
<line x1="423.2" y1="179.1" x2="428.7" y2="179.1" stroke="#000" stroke-width="1.1"/>
<line x1="423.2" y1="138.9" x2="428.7" y2="138.9" stroke="#000" stroke-width="1.1"/>
<line x1="423.2" y1="98.8" x2="428.7" y2="98.8" stroke="#000" stroke-width="1.1"/>
<line x1="423.2" y1="58.6" x2="428.7" y2="58.6" stroke="#000" stroke-width="1.1"/>
<line x1="428.7" y1="269.5" x2="428.7" y2="275.2" stroke="#000" stroke-width="1.1"/>
<line x1="484.9" y1="269.5" x2="484.9" y2="275.2" stroke="#000" stroke-width="1.1"/>
<line x1="541.0" y1="269.5" x2="541.0" y2="275.2" stroke="#000" stroke-width="1.1"/>
<line x1="597.2" y1="269.5" x2="597.2" y2="275.2" stroke="#000" stroke-width="1.1"/>
<line x1="653.3" y1="269.5" x2="653.3" y2="275.2" stroke="#000" stroke-width="1.1"/>
<line x1="709.5" y1="269.5" x2="709.5" y2="275.2" stroke="#000" stroke-width="1.1"/>
<rect x="434.8" y="29.3" width="124.8" height="78.9" rx="2.5" fill="#fff" fill-opacity="0.8" stroke="#ebebeb" stroke-width="1"/>
<rect x="437" y="36.9" width="32.5" height="5.9" fill="#2ca02c" fill-opacity="0.4"/>
<rect x="448.4" y="55.2" width="9.6" height="9.3" fill="#1f77b4" stroke="#153a5a" stroke-width="0.9"/>
<polygon points="448.30,73.70 457.70,73.70 453.00,83.10" fill="none" stroke="#9030a0" stroke-width="1.1"/>
<polygon points="453.20,92.00 454.36,95.60 458.15,95.59 455.08,97.81 456.26,101.41 453.20,99.18 450.14,101.41 451.32,97.81 448.25,95.59 452.04,95.60" fill="none" stroke="#f82a36" stroke-width="1.1"/>
<defs><linearGradient id="cb" x1="0" y1="0" x2="0" y2="1"><stop offset="0.00" stop-color="#b40426"/><stop offset="0.05" stop-color="#c53334"/><stop offset="0.10" stop-color="#d65244"/><stop offset="0.15" stop-color="#e36c55"/><stop offset="0.20" stop-color="#ee8468"/><stop offset="0.25" stop-color="#f4987a"/><stop offset="0.30" stop-color="#f7ac8e"/><stop offset="0.35" stop-color="#f6bda2"/><stop offset="0.40" stop-color="#f2cbb7"/><stop offset="0.45" stop-color="#e9d5cb"/><stop offset="0.50" stop-color="#dddcdc"/><stop offset="0.55" stop-color="#cfdaea"/><stop offset="0.60" stop-color="#c0d4f5"/><stop offset="0.65" stop-color="#afcafc"/><stop offset="0.70" stop-color="#9ebeff"/><stop offset="0.75" stop-color="#8db0fe"/><stop offset="0.80" stop-color="#7b9ff9"/><stop offset="0.85" stop-color="#6a8bef"/><stop offset="0.90" stop-color="#5977e3"/><stop offset="0.95" stop-color="#4961d2"/><stop offset="1.00" stop-color="#3b4cc0"/></linearGradient><clipPath id="clipb"><rect x="428.7" y="23.2" width="280.8" height="246.3"/></clipPath></defs>
<rect x="722" y="21" width="7.75" height="245.8" fill="url(#cb)" stroke="#000" stroke-width="1.1"/>
<line x1="729.75" y1="266.8" x2="735.2" y2="266.8" stroke="#000" stroke-width="1.1"/>
<line x1="729.75" y1="231.7" x2="735.2" y2="231.7" stroke="#000" stroke-width="1.1"/>
<line x1="729.75" y1="196.6" x2="735.2" y2="196.6" stroke="#000" stroke-width="1.1"/>
<line x1="729.75" y1="161.5" x2="735.2" y2="161.5" stroke="#000" stroke-width="1.1"/>
<line x1="729.75" y1="126.4" x2="735.2" y2="126.4" stroke="#000" stroke-width="1.1"/>
<line x1="729.75" y1="91.2" x2="735.2" y2="91.2" stroke="#000" stroke-width="1.1"/>
<line x1="729.75" y1="56.1" x2="735.2" y2="56.1" stroke="#000" stroke-width="1.1"/>
<line x1="729.75" y1="21.0" x2="735.2" y2="21.0" stroke="#000" stroke-width="1.1"/>
<text transform="translate(35.55,36.90) scale(1.1621,1.0)" font-size="13.6" >10</text>
<text transform="translate(51.23,31.70) scale(1.4000,1.0)" font-size="8.4" >4</text>
<text transform="translate(35.55,76.48) scale(1.1621,1.0)" font-size="13.6" >10</text>
<text transform="translate(50.78,71.28) scale(1.6593,1.0)" font-size="8.4" >2</text>
<text transform="translate(35.55,116.06) scale(1.1621,1.0)" font-size="13.6" >10</text>
<text transform="translate(50.80,110.86) scale(1.6000,1.0)" font-size="8.4" >0</text>
<text transform="translate(25.21,155.64) scale(1.1116,1.0)" font-size="13.6" >10</text>
<text transform="translate(40.31,150.54) scale(2.1161,1.0)" font-size="8.4" >−</text>
<text transform="translate(50.12,150.54) scale(1.8074,1.0)" font-size="8.4" >2</text>
<text transform="translate(25.21,195.22) scale(1.1116,1.0)" font-size="13.6" >10</text>
<text transform="translate(40.31,190.12) scale(2.1161,1.0)" font-size="8.4" >−</text>
<text transform="translate(50.61,190.12) scale(1.5250,1.0)" font-size="8.4" >4</text>
<text transform="translate(25.21,234.80) scale(1.1116,1.0)" font-size="13.6" >10</text>
<text transform="translate(40.31,229.70) scale(2.1161,1.0)" font-size="8.4" >−</text>
<text transform="translate(50.17,229.70) scale(1.6828,1.0)" font-size="8.4" >6</text>
<text transform="translate(25.21,274.38) scale(1.1116,1.0)" font-size="13.6" >10</text>
<text transform="translate(40.31,269.28) scale(2.1161,1.0)" font-size="8.4" >−</text>
<text transform="translate(50.15,269.28) scale(1.7429,1.0)" font-size="8.4" >8</text>
<text transform="translate(60.94,293.90) scale(1.1165,1.0)" font-size="13.6" >0.00</text>
<text transform="translate(124.59,293.90) scale(1.1165,1.0)" font-size="13.6" >0.05</text>
<text transform="translate(188.24,293.90) scale(1.1165,1.0)" font-size="13.6" >0.10</text>
<text transform="translate(251.89,293.90) scale(1.1165,1.0)" font-size="13.6" >0.15</text>
<text transform="translate(315.54,293.90) scale(1.1165,1.0)" font-size="13.6" >0.20</text>
<text transform="translate(72.51,14.80) scale(1.1104,1.0)" font-size="18.5" font-weight="bold">a</text>
<text transform="translate(429.15,14.90) scale(1.0054,1.0)" font-size="18.5" font-weight="bold">b</text>
<text class="lb" transform="translate(83.84,313.90) scale(1.1298,0.9)" font-size="15.3" >F4TCNQ</text>
<text class="lb" transform="translate(166.95,313.90) scale(1.1573,0.9)" font-size="15.3" >:PBTTT monomer, MR<tspan dy="2.8" font-size="10.5">D</tspan></text>
<text class="lb" transform="translate(14.90,254.57) rotate(-90) scale(1.1337,0.9)" font-size="15.3" >Electrical conductivity,</text>
<text class="lb" transform="translate(14.90,89.52) rotate(-90) scale(1.1712,0.9)" font-size="15.3" >[S m<tspan dy="-6" font-size="10.5">−1</tspan><tspan dy="6">]</tspan></text>
<text transform="translate(394.12,264.00) scale(1.1500,1.0)" font-size="13.6" >0.0</text>
<text transform="translate(394.12,223.84) scale(1.1683,1.0)" font-size="13.6" >0.2</text>
<text transform="translate(394.13,183.68) scale(1.1323,1.0)" font-size="13.6" >0.4</text>
<text transform="translate(394.13,143.52) scale(1.1411,1.0)" font-size="13.6" >0.6</text>
<text transform="translate(394.12,103.36) scale(1.1500,1.0)" font-size="13.6" >0.8</text>
<text transform="translate(393.19,63.20) scale(1.2066,1.0)" font-size="13.6" >1.0</text>
<text transform="translate(411.18,293.70) scale(1.1368,1.0)" font-size="13.6" >10</text>
<text transform="translate(427.08,288.80) scale(1.9097,1.0)" font-size="8.4" >−</text>
<text transform="translate(437.23,288.80) scale(1.4621,1.0)" font-size="8.4" >9</text>
<text transform="translate(467.34,293.70) scale(1.1368,1.0)" font-size="13.6" >10</text>
<text transform="translate(483.24,288.80) scale(1.9097,1.0)" font-size="8.4" >−</text>
<text transform="translate(493.21,288.80) scale(1.4621,1.0)" font-size="8.4" >6</text>
<text transform="translate(523.50,293.70) scale(1.1368,1.0)" font-size="13.6" >10</text>
<text transform="translate(539.40,288.80) scale(1.9097,1.0)" font-size="8.4" >−</text>
<text transform="translate(549.35,288.80) scale(1.5143,1.0)" font-size="8.4" >3</text>
<text transform="translate(584.46,293.70) scale(1.1368,1.0)" font-size="13.6" >10</text>
<text transform="translate(600.12,288.60) scale(1.4857,1.0)" font-size="8.4" >0</text>
<text transform="translate(640.62,293.70) scale(1.1368,1.0)" font-size="13.6" >10</text>
<text transform="translate(656.28,288.60) scale(1.4857,1.0)" font-size="8.4" >3</text>
<text transform="translate(696.78,293.70) scale(1.1368,1.0)" font-size="13.6" >10</text>
<text transform="translate(712.46,288.60) scale(1.4345,1.0)" font-size="8.4" >6</text>
<text class="lb" transform="translate(459.74,316.50) scale(1.1223,0.9)" font-size="15.3" >Electrical conductivity,</text>
<text class="lb" transform="translate(623.99,316.50) scale(1.1689,0.9)" font-size="15.3" >[S m<tspan dy="-6" font-size="10.5">−1</tspan><tspan dy="6">]</tspan></text>
<text class="lb" transform="translate(384.60,268.58) rotate(-90) scale(1.1226,0.9)" font-size="15.3" >Thermal conductivity</text>
<text class="lb" transform="translate(384.60,112.99) rotate(-90) scale(1.2337,0.9)" font-size="15.3" >[W m<tspan dy="-6" font-size="10.5">−1</tspan><tspan dy="6">K</tspan><tspan dy="-6" font-size="10.5">−1</tspan><tspan dy="6">]</tspan></text>
<text transform="translate(503.09,137.20) scale(1.3000,1.0)" font-size="13" >−</text>
<text transform="translate(518.86,137.20) scale(1.3500,1.0)" font-size="13" >−</text>
<text transform="translate(532.25,137.20) scale(1.2936,1.0)" font-size="13" ><tspan font-style="italic">κ</tspan></text>
<text transform="translate(540.64,139.50) scale(1.4286,1.0)" font-size="9" ><tspan font-style="italic">e</tspan></text>
<text transform="translate(550.67,137.20) scale(1.4857,1.0)" font-size="13" >=</text>
<text transform="translate(565.25,137.20) scale(1.1922,1.0)" font-size="13" ><tspan font-style="italic">σ</tspan></text>
<text transform="translate(575.42,137.20) scale(1.3474,1.0)" font-size="13" ><tspan font-style="italic">T</tspan></text>
<text transform="translate(589.84,137.20) scale(1.1259,1.0)" font-size="13" ><tspan font-style="italic">L</tspan></text>
<text transform="translate(597.25,139.50) scale(1.4667,1.0)" font-size="9" >0</text>
<text transform="translate(607.47,137.20) scale(1.4857,1.0)" font-size="13" >+</text>
<text transform="translate(620.94,137.20) scale(1.1109,1.0)" font-size="13" >0.36</text>
<text transform="translate(476.78,44.30) scale(1.1294,1.0)" font-size="12.5" >fit</text>
<text transform="translate(476.20,62.50) scale(1.2031,1.0)" font-size="12.5" >experimental</text>
<text transform="translate(476.34,82.30) scale(1.2176,1.0)" font-size="12.5" >PEDOT</text>
<text transform="translate(476.51,100.00) scale(1.1748,1.0)" font-size="12.5" >polyaniline</text>
<text transform="translate(743.06,271.40) scale(1.1544,1.0)" font-size="13.6" >130</text>
<text transform="translate(743.06,236.29) scale(1.1544,1.0)" font-size="13.6" >140</text>
<text transform="translate(743.06,201.18) scale(1.1544,1.0)" font-size="13.6" >150</text>
<text transform="translate(743.06,166.07) scale(1.1544,1.0)" font-size="13.6" >160</text>
<text transform="translate(743.06,130.96) scale(1.1544,1.0)" font-size="13.6" >170</text>
<text transform="translate(743.06,95.85) scale(1.1544,1.0)" font-size="13.6" >180</text>
<text transform="translate(743.06,60.74) scale(1.1544,1.0)" font-size="13.6" >190</text>
<text transform="translate(743.80,25.63) scale(1.1169,1.0)" font-size="13.6" >200</text>
<text class="lb" transform="translate(785.20,240.14) rotate(-90) scale(1.1407,0.9)" font-size="15.3" >Annealing temperature</text>
<text class="lb" transform="translate(786.00,74.03) rotate(-90) scale(1.0021,1.15)" font-size="15.3" >[°C]</text>
</svg></body></html>
